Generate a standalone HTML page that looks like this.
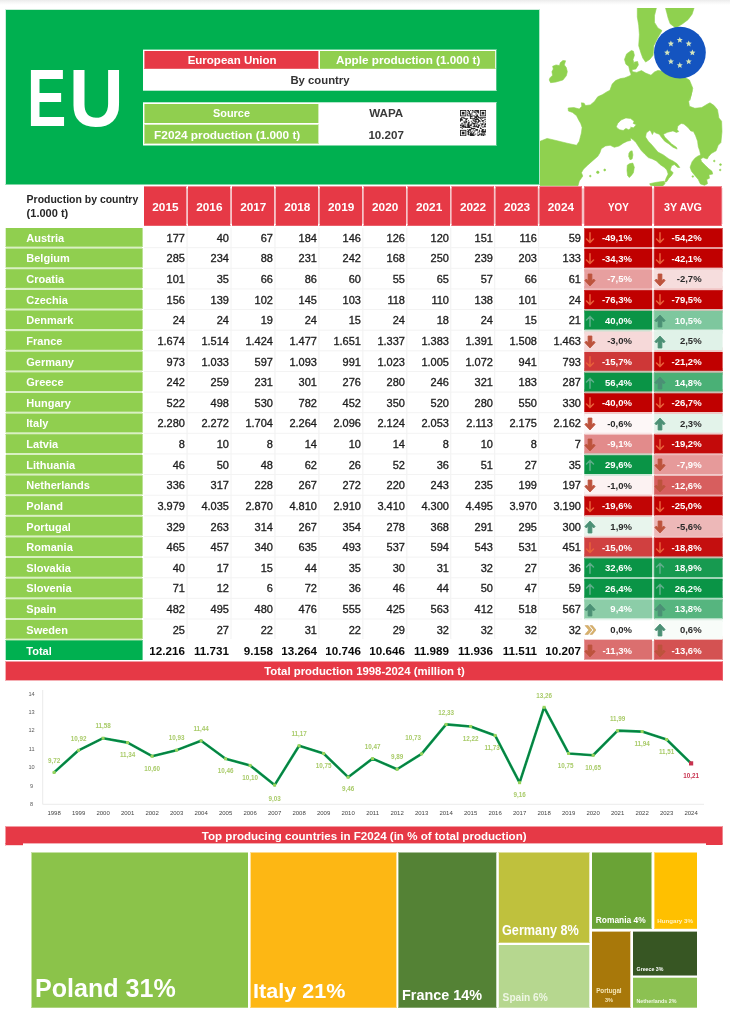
<!DOCTYPE html>
<html lang="en">
<head>
<meta charset="utf-8">
<title>EU apple production by country</title>
<meta name="viewport" content="width=730">
<style>
html,body{margin:0;padding:0;}
body{width:730px;height:1029px;position:relative;overflow:hidden;background:#fff;font-family:"Liberation Sans", Arial, sans-serif;font-weight:700;}
.b,.t,svg{position:absolute;}
.t{white-space:nowrap;margin:0;padding:0;}
section{position:absolute;left:0;top:0;width:730px;height:0;}
</style>
</head>
<body>
<section id="header">
<div class="b" style="left:0px;top:0px;width:730px;height:5px;background:linear-gradient(#ebebeb,#f6f6f6 45%,#fff);"></div>
<div class="b" style="left:5px;top:9px;width:535px;height:176px;background:#00b050;box-sizing:border-box;background-clip:padding-box;border-top:1px solid rgba(0,176,80,.20);border-right:1px solid rgba(0,176,80,.30);border-bottom:1px solid rgba(0,176,80,.50);border-left:1px solid rgba(0,176,80,.20);"></div>
<h1 class="t" style="left:0;top:0;font-size:0;line-height:0"><span class="t" style="left:26.95px;top:51px;font-size:81.4px;line-height:93px;color:#fff;transform:scaleX(0.725);transform-origin:left center;">E</span><span class="t" style="left:69.45px;top:51px;font-size:81.4px;line-height:93px;color:#fff;transform:scaleX(0.93);transform-origin:left center;">U</span></h1>
<div class="b" style="left:143px;top:49px;width:354px;height:42px;background:#fff;box-sizing:border-box;background-clip:padding-box;border-top:1px solid rgba(255,255,255,.40);border-right:1px solid rgba(255,255,255,.30);border-bottom:1px solid rgba(255,255,255,.70);"></div>
<div class="b" style="left:144px;top:51px;width:175px;height:18px;background:#e63946;box-sizing:border-box;background-clip:padding-box;border-right:1px solid rgba(230,57,70,.40);border-bottom:1px solid rgba(230,57,70,.80);border-left:1px solid rgba(230,57,70,.60);"></div>
<div class="b" style="left:320px;top:51px;width:176px;height:18px;background:#90cf4f;box-sizing:border-box;background-clip:padding-box;border-right:1px solid rgba(144,207,79,.20);border-bottom:1px solid rgba(144,207,79,.80);"></div>
<div class="t" style="top:53px;font-size:11.53px;line-height:14px;color:#fff;left:-17.9px;width:500px;text-align:center;">European Union</div>
<div class="t" style="top:52px;font-size:11.71px;line-height:15px;color:#fff;left:158.2px;width:500px;text-align:center;">Apple production (1.000 t)</div>
<div class="t" style="top:73px;font-size:11.33px;line-height:14px;color:#333;left:70px;width:500px;text-align:center;">By country</div>
<div class="b" style="left:143px;top:102px;width:354px;height:44px;background:#fff;box-sizing:border-box;background-clip:padding-box;border-top:1px solid rgba(255,255,255,.70);border-right:1px solid rgba(255,255,255,.30);border-bottom:1px solid rgba(255,255,255,.50);"></div>
<div class="b" style="left:144px;top:104px;width:175px;height:19px;background:#90cf4f;box-sizing:border-box;background-clip:padding-box;border-right:1px solid rgba(144,207,79,.40);border-left:1px solid rgba(144,207,79,.60);"></div>
<div class="b" style="left:144px;top:124px;width:175px;height:20px;background:#90cf4f;box-sizing:border-box;background-clip:padding-box;border-top:1px solid rgba(144,207,79,.30);border-right:1px solid rgba(144,207,79,.40);border-bottom:1px solid rgba(144,207,79,.60);border-left:1px solid rgba(144,207,79,.60);"></div>
<div class="t" style="top:106px;font-size:10.91px;line-height:14px;color:#fff;left:-18.5px;width:500px;text-align:center;">Source</div>
<div class="t" style="top:127px;font-size:11.81px;line-height:16px;color:#fff;left:-22.8px;width:500px;text-align:center;">F2024 production (1.000 t)</div>
<div class="t" style="top:105px;font-size:11.65px;line-height:15px;color:#3a3a3a;left:136.2px;width:500px;text-align:center;">WAPA</div>
<div class="t" style="top:127px;font-size:11.64px;line-height:15px;color:#3a3a3a;left:136.2px;width:500px;text-align:center;">10.207</div>
<svg style="left:459.8px;top:109.6px" width="26.2" height="26.2" viewBox="0 0 26.2 26.2" role="img" aria-label="QR code"><path d="M7.23 0h0.9v0.9h-0.9zM8.13 0h0.9v0.9h-0.9zM9.94 0h0.9v0.9h-0.9zM11.74 0h0.9v0.9h-0.9zM12.65 0h0.9v0.9h-0.9zM14.46 0h0.9v0.9h-0.9zM15.36 0h0.9v0.9h-0.9zM16.26 0h0.9v0.9h-0.9zM17.17 0h0.9v0.9h-0.9zM18.07 0h0.9v0.9h-0.9zM8.13 0.9h0.9v0.9h-0.9zM9.03 0.9h0.9v0.9h-0.9zM12.65 0.9h0.9v0.9h-0.9zM14.46 0.9h0.9v0.9h-0.9zM16.26 0.9h0.9v0.9h-0.9zM17.17 0.9h0.9v0.9h-0.9zM18.07 0.9h0.9v0.9h-0.9zM7.23 1.81h0.9v0.9h-0.9zM9.03 1.81h0.9v0.9h-0.9zM11.74 1.81h0.9v0.9h-0.9zM13.55 1.81h0.9v0.9h-0.9zM14.46 1.81h0.9v0.9h-0.9zM15.36 1.81h0.9v0.9h-0.9zM17.17 1.81h0.9v0.9h-0.9zM18.07 1.81h0.9v0.9h-0.9zM8.13 2.71h0.9v0.9h-0.9zM9.03 2.71h0.9v0.9h-0.9zM11.74 2.71h0.9v0.9h-0.9zM16.26 2.71h0.9v0.9h-0.9zM18.07 2.71h0.9v0.9h-0.9zM7.23 3.61h0.9v0.9h-0.9zM9.03 3.61h0.9v0.9h-0.9zM9.94 3.61h0.9v0.9h-0.9zM10.84 3.61h0.9v0.9h-0.9zM15.36 3.61h0.9v0.9h-0.9zM7.23 4.52h0.9v0.9h-0.9zM9.94 4.52h0.9v0.9h-0.9zM11.74 4.52h0.9v0.9h-0.9zM16.26 4.52h0.9v0.9h-0.9zM17.17 4.52h0.9v0.9h-0.9zM7.23 5.42h0.9v0.9h-0.9zM8.13 5.42h0.9v0.9h-0.9zM9.03 5.42h0.9v0.9h-0.9zM9.94 5.42h0.9v0.9h-0.9zM10.84 5.42h0.9v0.9h-0.9zM12.65 5.42h0.9v0.9h-0.9zM13.55 5.42h0.9v0.9h-0.9zM14.46 5.42h0.9v0.9h-0.9zM16.26 5.42h0.9v0.9h-0.9zM17.17 5.42h0.9v0.9h-0.9zM9.94 6.32h0.9v0.9h-0.9zM10.84 6.32h0.9v0.9h-0.9zM11.74 6.32h0.9v0.9h-0.9zM14.46 6.32h0.9v0.9h-0.9zM15.36 6.32h0.9v0.9h-0.9zM16.26 6.32h0.9v0.9h-0.9zM17.17 6.32h0.9v0.9h-0.9zM18.07 6.32h0.9v0.9h-0.9zM0.9 7.23h0.9v0.9h-0.9zM1.81 7.23h0.9v0.9h-0.9zM2.71 7.23h0.9v0.9h-0.9zM3.61 7.23h0.9v0.9h-0.9zM9.94 7.23h0.9v0.9h-0.9zM14.46 7.23h0.9v0.9h-0.9zM15.36 7.23h0.9v0.9h-0.9zM16.26 7.23h0.9v0.9h-0.9zM18.07 7.23h0.9v0.9h-0.9zM18.97 7.23h0.9v0.9h-0.9zM19.88 7.23h0.9v0.9h-0.9zM20.78 7.23h0.9v0.9h-0.9zM21.68 7.23h0.9v0.9h-0.9zM22.59 7.23h0.9v0.9h-0.9zM23.49 7.23h0.9v0.9h-0.9zM24.39 7.23h0.9v0.9h-0.9zM25.3 7.23h0.9v0.9h-0.9zM0 8.13h0.9v0.9h-0.9zM0.9 8.13h0.9v0.9h-0.9zM3.61 8.13h0.9v0.9h-0.9zM4.52 8.13h0.9v0.9h-0.9zM5.42 8.13h0.9v0.9h-0.9zM6.32 8.13h0.9v0.9h-0.9zM7.23 8.13h0.9v0.9h-0.9zM9.94 8.13h0.9v0.9h-0.9zM10.84 8.13h0.9v0.9h-0.9zM11.74 8.13h0.9v0.9h-0.9zM12.65 8.13h0.9v0.9h-0.9zM13.55 8.13h0.9v0.9h-0.9zM14.46 8.13h0.9v0.9h-0.9zM16.26 8.13h0.9v0.9h-0.9zM17.17 8.13h0.9v0.9h-0.9zM19.88 8.13h0.9v0.9h-0.9zM21.68 8.13h0.9v0.9h-0.9zM0 9.03h0.9v0.9h-0.9zM0.9 9.03h0.9v0.9h-0.9zM1.81 9.03h0.9v0.9h-0.9zM5.42 9.03h0.9v0.9h-0.9zM6.32 9.03h0.9v0.9h-0.9zM12.65 9.03h0.9v0.9h-0.9zM14.46 9.03h0.9v0.9h-0.9zM15.36 9.03h0.9v0.9h-0.9zM16.26 9.03h0.9v0.9h-0.9zM17.17 9.03h0.9v0.9h-0.9zM18.07 9.03h0.9v0.9h-0.9zM20.78 9.03h0.9v0.9h-0.9zM24.39 9.03h0.9v0.9h-0.9zM25.3 9.03h0.9v0.9h-0.9zM0 9.94h0.9v0.9h-0.9zM0.9 9.94h0.9v0.9h-0.9zM1.81 9.94h0.9v0.9h-0.9zM5.42 9.94h0.9v0.9h-0.9zM8.13 9.94h0.9v0.9h-0.9zM12.65 9.94h0.9v0.9h-0.9zM13.55 9.94h0.9v0.9h-0.9zM15.36 9.94h0.9v0.9h-0.9zM18.07 9.94h0.9v0.9h-0.9zM18.97 9.94h0.9v0.9h-0.9zM21.68 9.94h0.9v0.9h-0.9zM22.59 9.94h0.9v0.9h-0.9zM23.49 9.94h0.9v0.9h-0.9zM0 10.84h0.9v0.9h-0.9zM3.61 10.84h0.9v0.9h-0.9zM5.42 10.84h0.9v0.9h-0.9zM6.32 10.84h0.9v0.9h-0.9zM10.84 10.84h0.9v0.9h-0.9zM13.55 10.84h0.9v0.9h-0.9zM14.46 10.84h0.9v0.9h-0.9zM15.36 10.84h0.9v0.9h-0.9zM16.26 10.84h0.9v0.9h-0.9zM18.07 10.84h0.9v0.9h-0.9zM18.97 10.84h0.9v0.9h-0.9zM19.88 10.84h0.9v0.9h-0.9zM21.68 10.84h0.9v0.9h-0.9zM22.59 10.84h0.9v0.9h-0.9zM25.3 10.84h0.9v0.9h-0.9zM3.61 11.74h0.9v0.9h-0.9zM4.52 11.74h0.9v0.9h-0.9zM5.42 11.74h0.9v0.9h-0.9zM6.32 11.74h0.9v0.9h-0.9zM8.13 11.74h0.9v0.9h-0.9zM9.03 11.74h0.9v0.9h-0.9zM11.74 11.74h0.9v0.9h-0.9zM15.36 11.74h0.9v0.9h-0.9zM17.17 11.74h0.9v0.9h-0.9zM18.07 11.74h0.9v0.9h-0.9zM23.49 11.74h0.9v0.9h-0.9zM1.81 12.65h0.9v0.9h-0.9zM3.61 12.65h0.9v0.9h-0.9zM8.13 12.65h0.9v0.9h-0.9zM11.74 12.65h0.9v0.9h-0.9zM12.65 12.65h0.9v0.9h-0.9zM13.55 12.65h0.9v0.9h-0.9zM14.46 12.65h0.9v0.9h-0.9zM15.36 12.65h0.9v0.9h-0.9zM16.26 12.65h0.9v0.9h-0.9zM19.88 12.65h0.9v0.9h-0.9zM22.59 12.65h0.9v0.9h-0.9zM25.3 12.65h0.9v0.9h-0.9zM0.9 13.55h0.9v0.9h-0.9zM1.81 13.55h0.9v0.9h-0.9zM4.52 13.55h0.9v0.9h-0.9zM5.42 13.55h0.9v0.9h-0.9zM7.23 13.55h0.9v0.9h-0.9zM8.13 13.55h0.9v0.9h-0.9zM9.03 13.55h0.9v0.9h-0.9zM10.84 13.55h0.9v0.9h-0.9zM12.65 13.55h0.9v0.9h-0.9zM13.55 13.55h0.9v0.9h-0.9zM14.46 13.55h0.9v0.9h-0.9zM17.17 13.55h0.9v0.9h-0.9zM20.78 13.55h0.9v0.9h-0.9zM21.68 13.55h0.9v0.9h-0.9zM22.59 13.55h0.9v0.9h-0.9zM24.39 13.55h0.9v0.9h-0.9zM25.3 13.55h0.9v0.9h-0.9zM0 14.46h0.9v0.9h-0.9zM2.71 14.46h0.9v0.9h-0.9zM3.61 14.46h0.9v0.9h-0.9zM7.23 14.46h0.9v0.9h-0.9zM8.13 14.46h0.9v0.9h-0.9zM9.94 14.46h0.9v0.9h-0.9zM10.84 14.46h0.9v0.9h-0.9zM14.46 14.46h0.9v0.9h-0.9zM16.26 14.46h0.9v0.9h-0.9zM18.07 14.46h0.9v0.9h-0.9zM18.97 14.46h0.9v0.9h-0.9zM21.68 14.46h0.9v0.9h-0.9zM22.59 14.46h0.9v0.9h-0.9zM24.39 14.46h0.9v0.9h-0.9zM25.3 14.46h0.9v0.9h-0.9zM0 15.36h0.9v0.9h-0.9zM0.9 15.36h0.9v0.9h-0.9zM1.81 15.36h0.9v0.9h-0.9zM2.71 15.36h0.9v0.9h-0.9zM3.61 15.36h0.9v0.9h-0.9zM5.42 15.36h0.9v0.9h-0.9zM7.23 15.36h0.9v0.9h-0.9zM8.13 15.36h0.9v0.9h-0.9zM9.03 15.36h0.9v0.9h-0.9zM9.94 15.36h0.9v0.9h-0.9zM10.84 15.36h0.9v0.9h-0.9zM13.55 15.36h0.9v0.9h-0.9zM14.46 15.36h0.9v0.9h-0.9zM16.26 15.36h0.9v0.9h-0.9zM18.07 15.36h0.9v0.9h-0.9zM18.97 15.36h0.9v0.9h-0.9zM20.78 15.36h0.9v0.9h-0.9zM24.39 15.36h0.9v0.9h-0.9zM1.81 16.26h0.9v0.9h-0.9zM2.71 16.26h0.9v0.9h-0.9zM3.61 16.26h0.9v0.9h-0.9zM4.52 16.26h0.9v0.9h-0.9zM5.42 16.26h0.9v0.9h-0.9zM7.23 16.26h0.9v0.9h-0.9zM8.13 16.26h0.9v0.9h-0.9zM9.03 16.26h0.9v0.9h-0.9zM12.65 16.26h0.9v0.9h-0.9zM13.55 16.26h0.9v0.9h-0.9zM14.46 16.26h0.9v0.9h-0.9zM15.36 16.26h0.9v0.9h-0.9zM16.26 16.26h0.9v0.9h-0.9zM17.17 16.26h0.9v0.9h-0.9zM18.07 16.26h0.9v0.9h-0.9zM21.68 16.26h0.9v0.9h-0.9zM23.49 16.26h0.9v0.9h-0.9zM24.39 16.26h0.9v0.9h-0.9zM25.3 16.26h0.9v0.9h-0.9zM0 17.17h0.9v0.9h-0.9zM0.9 17.17h0.9v0.9h-0.9zM2.71 17.17h0.9v0.9h-0.9zM4.52 17.17h0.9v0.9h-0.9zM5.42 17.17h0.9v0.9h-0.9zM6.32 17.17h0.9v0.9h-0.9zM7.23 17.17h0.9v0.9h-0.9zM8.13 17.17h0.9v0.9h-0.9zM9.03 17.17h0.9v0.9h-0.9zM9.94 17.17h0.9v0.9h-0.9zM10.84 17.17h0.9v0.9h-0.9zM17.17 17.17h0.9v0.9h-0.9zM18.07 17.17h0.9v0.9h-0.9zM19.88 17.17h0.9v0.9h-0.9zM22.59 17.17h0.9v0.9h-0.9zM1.81 18.07h0.9v0.9h-0.9zM10.84 18.07h0.9v0.9h-0.9zM11.74 18.07h0.9v0.9h-0.9zM12.65 18.07h0.9v0.9h-0.9zM13.55 18.07h0.9v0.9h-0.9zM14.46 18.07h0.9v0.9h-0.9zM19.88 18.07h0.9v0.9h-0.9zM20.78 18.07h0.9v0.9h-0.9zM7.23 18.97h0.9v0.9h-0.9zM9.03 18.97h0.9v0.9h-0.9zM9.94 18.97h0.9v0.9h-0.9zM10.84 18.97h0.9v0.9h-0.9zM12.65 18.97h0.9v0.9h-0.9zM15.36 18.97h0.9v0.9h-0.9zM16.26 18.97h0.9v0.9h-0.9zM17.17 18.97h0.9v0.9h-0.9zM21.68 18.97h0.9v0.9h-0.9zM22.59 18.97h0.9v0.9h-0.9zM23.49 18.97h0.9v0.9h-0.9zM25.3 18.97h0.9v0.9h-0.9zM8.13 19.88h0.9v0.9h-0.9zM9.03 19.88h0.9v0.9h-0.9zM9.94 19.88h0.9v0.9h-0.9zM13.55 19.88h0.9v0.9h-0.9zM15.36 19.88h0.9v0.9h-0.9zM16.26 19.88h0.9v0.9h-0.9zM17.17 19.88h0.9v0.9h-0.9zM18.97 19.88h0.9v0.9h-0.9zM21.68 19.88h0.9v0.9h-0.9zM22.59 19.88h0.9v0.9h-0.9zM25.3 19.88h0.9v0.9h-0.9zM7.23 20.78h0.9v0.9h-0.9zM8.13 20.78h0.9v0.9h-0.9zM9.94 20.78h0.9v0.9h-0.9zM11.74 20.78h0.9v0.9h-0.9zM14.46 20.78h0.9v0.9h-0.9zM18.97 20.78h0.9v0.9h-0.9zM20.78 20.78h0.9v0.9h-0.9zM21.68 20.78h0.9v0.9h-0.9zM22.59 20.78h0.9v0.9h-0.9zM23.49 20.78h0.9v0.9h-0.9zM24.39 20.78h0.9v0.9h-0.9zM25.3 20.78h0.9v0.9h-0.9zM7.23 21.68h0.9v0.9h-0.9zM8.13 21.68h0.9v0.9h-0.9zM9.03 21.68h0.9v0.9h-0.9zM10.84 21.68h0.9v0.9h-0.9zM13.55 21.68h0.9v0.9h-0.9zM17.17 21.68h0.9v0.9h-0.9zM18.07 21.68h0.9v0.9h-0.9zM18.97 21.68h0.9v0.9h-0.9zM21.68 21.68h0.9v0.9h-0.9zM22.59 21.68h0.9v0.9h-0.9zM23.49 21.68h0.9v0.9h-0.9zM24.39 21.68h0.9v0.9h-0.9zM25.3 21.68h0.9v0.9h-0.9zM8.13 22.59h0.9v0.9h-0.9zM9.94 22.59h0.9v0.9h-0.9zM10.84 22.59h0.9v0.9h-0.9zM12.65 22.59h0.9v0.9h-0.9zM13.55 22.59h0.9v0.9h-0.9zM21.68 22.59h0.9v0.9h-0.9zM23.49 22.59h0.9v0.9h-0.9zM7.23 23.49h0.9v0.9h-0.9zM8.13 23.49h0.9v0.9h-0.9zM9.94 23.49h0.9v0.9h-0.9zM10.84 23.49h0.9v0.9h-0.9zM11.74 23.49h0.9v0.9h-0.9zM12.65 23.49h0.9v0.9h-0.9zM15.36 23.49h0.9v0.9h-0.9zM17.17 23.49h0.9v0.9h-0.9zM18.97 23.49h0.9v0.9h-0.9zM19.88 23.49h0.9v0.9h-0.9zM20.78 23.49h0.9v0.9h-0.9zM21.68 23.49h0.9v0.9h-0.9zM23.49 23.49h0.9v0.9h-0.9zM24.39 23.49h0.9v0.9h-0.9zM8.13 24.39h0.9v0.9h-0.9zM9.03 24.39h0.9v0.9h-0.9zM9.94 24.39h0.9v0.9h-0.9zM10.84 24.39h0.9v0.9h-0.9zM11.74 24.39h0.9v0.9h-0.9zM12.65 24.39h0.9v0.9h-0.9zM13.55 24.39h0.9v0.9h-0.9zM14.46 24.39h0.9v0.9h-0.9zM18.07 24.39h0.9v0.9h-0.9zM18.97 24.39h0.9v0.9h-0.9zM20.78 24.39h0.9v0.9h-0.9zM21.68 24.39h0.9v0.9h-0.9zM22.59 24.39h0.9v0.9h-0.9zM23.49 24.39h0.9v0.9h-0.9zM25.3 24.39h0.9v0.9h-0.9zM9.94 25.3h0.9v0.9h-0.9zM10.84 25.3h0.9v0.9h-0.9zM11.74 25.3h0.9v0.9h-0.9zM12.65 25.3h0.9v0.9h-0.9zM13.55 25.3h0.9v0.9h-0.9zM17.17 25.3h0.9v0.9h-0.9zM18.07 25.3h0.9v0.9h-0.9zM20.78 25.3h0.9v0.9h-0.9zM22.59 25.3h0.9v0.9h-0.9zM23.49 25.3h0.9v0.9h-0.9z" fill="#222"/><rect x="0" y="0" width="6.32" height="6.32" fill="#222"/><rect x="0.9" y="0.9" width="4.52" height="4.52" fill="#fff"/><rect x="1.81" y="1.81" width="2.71" height="2.71" fill="#222"/><rect x="19.88" y="0" width="6.32" height="6.32" fill="#222"/><rect x="20.78" y="0.9" width="4.52" height="4.52" fill="#fff"/><rect x="21.68" y="1.81" width="2.71" height="2.71" fill="#222"/><rect x="0" y="19.88" width="6.32" height="6.32" fill="#222"/><rect x="0.9" y="20.78" width="4.52" height="4.52" fill="#fff"/><rect x="1.81" y="21.68" width="2.71" height="2.71" fill="#222"/></svg>
</section>
<section id="map">
<svg style="left:539.5px;top:7.5px" width="190.5" height="178.7" viewBox="539.5 7.5 190.5 178.7" role="img" aria-label="Map of the European Union"><g fill="#8fd14f" stroke="#8fd14f" stroke-width=".6" stroke-linejoin="round"><path fill-rule="evenodd" d="M539.1 141L546.6 137.9L555.5 140L566.5 142.7L576.1 144.8L578.8 140.7L580.9 132.5L581.6 127L580.2 122.9L578.2 119.5L576.1 115.3L572 111.9L567.9 110.5L567.6 107.5L573.4 107.1L578.8 108.5L581.3 105.8L580.9 102.3L583.6 102.7L585 105.1L589.8 104.4L593.9 101L597.3 96.2L602.1 94.1L606.2 91.4L609 90L609.7 89L611.7 83.6L615.1 80.1L619.9 78.1L624 77.4L629.5 75.3L630.6 73.7L629.5 71.2L628.2 65.8L625.4 63.7L624 58.9L626.1 53.4L630.9 50L632.9 50.7L633.9 54.8L632.5 58.9L633.4 63L635 65.1L636.2 65.1L635.5 68.5L631.4 69.2L632.1 71.2L636.2 71.9L641 70.1L645.1 72.6L650.5 74.7L654 71.5L657.4 69.9L665.6 71.2L679.3 74L688.9 79.5L692.3 87.7L690.3 95.9L689.2 100L691.6 90L690.3 95.5L688.2 101L688.9 105.8L694.4 107.8L701.2 107.1L706.7 103.7L709.5 102.3L713.6 105.1L717 109.2L718.4 117.4L721.1 120.8L721.5 131.1L720.4 142.1L717.7 144.8L715.6 150.3L710.8 153L708.1 156L706.7 158.5L702.6 157.1L700.1 158.5L701.2 161.2L704.7 164.7L708.1 168.1L711.5 170.8L712.2 173.6L708.4 174.2L709 177.7L706.2 179L707 183.2L704 184.8L699.9 183.4L697.8 179L694.4 174.9L691 170.8L689.6 166.7L691.6 161.2L694.4 157.8L697.1 155.8L700.1 154.4L699.2 150.3L697.8 146.2L697.1 140.7L695.1 135.2L693 131.1L690.3 130.4L687.5 127L683.4 123.6L680.7 122.9L677.3 125.6L676.6 129L678.2 131.1L675.9 131.9L672.5 130.4L667 131.8L662.9 133.8L664.2 136.6L667 139.3L671.1 143.4L675.9 146.8L676.6 148.6L672.5 146.8L668.4 143.4L664.2 140.7L660.8 136.6L658.8 133.8L655.3 132.5L653.3 131.1L651.9 134.1L650.5 131.1L649.2 129.7L645.8 132.5L645.1 136.6L647.8 140.7L650.5 143.4L654 147.5L657.4 151.6L662.9 154.4L668.4 158.5L672.5 160.5L676.6 163.3L679.3 167L677.3 167L673.8 164L671.1 165.3L669.7 169.5L672.7 172.2L671.1 174.9L668.4 177.7L666.3 181.1L664.2 181.8L665.6 177.7L667.7 173.6L666.3 169.5L663.6 166.7L659.5 164L656 160.5L651.9 158.5L647.8 157.1L644.4 153.7L641 150.3L638.2 146.2L635.5 142.1L632.7 139.3L630 137.3L630.2 140L626.8 140.7L622.7 142.7L618.6 145.5L613.8 146.8L609.7 144.8L604.9 145.5L600.8 148.2L599.4 152.3L597.3 155.8L592.5 159.9L587.1 164.7L582.9 168.8L580.9 172.2L582.3 175.6L578.8 180.4L577.5 185.2L539.1 185.2ZM615.8 126.3L617.2 122.9L620.6 119.5L625.4 117.4L630.2 118.1L633.6 120.8L632.7 122.9L635.8 124.2L633 127.3L630 126.7L630.9 127.3L628.2 129.3L625.4 127.9L622.7 130L619.2 129.3L617.2 127.9Z"/><path d="M548.7 79.5L550.1 82.2L555.5 81.5L562.4 79.5L565.8 75.3L566.8 71.2L565.8 67.1L563.8 64.4L565.1 60.3L562.4 60L559.7 62.3L559 65.1L555.5 64.4L552.1 65.8L552.8 68.5L551.4 71.2L552.1 74.7L549.4 77.4Z"/><path d="M636.8 7.1L656 7.1L654 15.1L654 21.9L657.4 27.4L661.5 30.1L657.4 37L653.3 45.2L652.6 54.8L649.2 58.9L645.1 61.6L642.3 57.5L640.3 52.1L638.2 45.2L638.9 34.2L638.2 24.7L636.8 16.4Z"/><path d="M664.9 7.1L693.7 7.1L691.6 13.7L687.5 19.2L682.1 23.3L675.2 27.4L669.7 23.3L667.7 17.8L666.3 12.3Z"/><path d="M630 51.4L631.9 51.8L632.5 56.2L631.4 61L630 61.6Z"/><path d="M633.8 61.6L637.1 61L637.9 64.4L636 67.4L633.6 66.6Z"/><path d="M629.5 151L631.6 150.3L632.4 154.4L631.6 158.5L629.5 159.2L628.2 155.8L628.4 153Z"/><path d="M626.8 164.7L628.8 163.3L632.3 162.6L633.8 166.7L632.9 172.2L630.9 174.9L628.8 177.1L627.1 174.9L626.5 170.1Z"/><path d="M649.2 183.2L656 181.8L663.6 180.8L664.5 183.2L662.2 185.5L653.3 185.5L649.9 184.8Z"/><circle cx="597.3" cy="171.8" r="1.23"/><circle cx="604.2" cy="169.5" r="0.96"/><circle cx="589.8" cy="175.6" r="0.82"/><circle cx="713.8" cy="160.5" r="0.82"/><circle cx="720" cy="164.1" r="0.96"/><circle cx="719.7" cy="169.5" r="0.82"/><circle cx="692.3" cy="176" r="0.82"/></g><circle cx="679.4" cy="52.1" r="25.9" fill="#1454c0"/><g fill="#d3e4bd"><polygon points="679.3,36.4 680.15,38.43 682.34,38.61 680.68,40.05 681.18,42.19 679.3,41.05 677.42,42.19 677.92,40.05 676.26,38.61 678.45,38.43"/><polygon points="688.21,40.09 689.06,42.12 691.25,42.3 689.59,43.74 690.09,45.88 688.21,44.74 686.33,45.88 686.83,43.74 685.17,42.3 687.36,42.12"/><polygon points="691.9,49 692.75,51.03 694.94,51.21 693.28,52.65 693.78,54.79 691.9,53.65 690.02,54.79 690.52,52.65 688.86,51.21 691.05,51.03"/><polygon points="688.21,57.91 689.06,59.94 691.25,60.12 689.59,61.56 690.09,63.7 688.21,62.56 686.33,63.7 686.83,61.56 685.17,60.12 687.36,59.94"/><polygon points="679.3,61.6 680.15,63.63 682.34,63.81 680.68,65.25 681.18,67.39 679.3,66.25 677.42,67.39 677.92,65.25 676.26,63.81 678.45,63.63"/><polygon points="670.39,57.91 671.24,59.94 673.43,60.12 671.77,61.56 672.27,63.7 670.39,62.56 668.51,63.7 669.01,61.56 667.35,60.12 669.54,59.94"/><polygon points="666.7,49 667.55,51.03 669.74,51.21 668.08,52.65 668.58,54.79 666.7,53.65 664.82,54.79 665.32,52.65 663.66,51.21 665.85,51.03"/><polygon points="670.39,40.09 671.24,42.12 673.43,42.3 671.77,43.74 672.27,45.88 670.39,44.74 668.51,45.88 669.01,43.74 667.35,42.3 669.54,42.12"/></g></svg>
</section>
<section id="table">
<div class="b" style="left:148px;top:188px;width:575px;height:36px;background:#f6c3c7;box-sizing:border-box;background-clip:padding-box;border-top:1px solid rgba(246,195,199,.60);border-right:1px solid rgba(246,195,199,.50);border-bottom:1px solid rgba(246,195,199,.80);"></div>
<div class="t" style="top:193px;font-size:10.48px;line-height:13px;color:#262626;left:26.6px;">Production by country</div>
<div class="t" style="top:206px;font-size:11.03px;line-height:14px;color:#262626;left:26.6px;">(1.000 t)</div>
<div class="b" style="left:144px;top:186px;width:43px;height:40px;background:#e63946;box-sizing:border-box;background-clip:padding-box;border-top:1px solid rgba(230,57,70,.60);border-right:1px solid rgba(230,57,70,.20);border-bottom:1px solid rgba(230,57,70,.80);"></div>
<div class="t" style="top:199px;font-size:11.8px;line-height:16px;color:#fff;left:-84.6px;width:500px;text-align:center;">2015</div>
<div class="b" style="left:188px;top:186px;width:43px;height:40px;background:#e63946;box-sizing:border-box;background-clip:padding-box;border-top:1px solid rgba(230,57,70,.60);border-right:1px solid rgba(230,57,70,.15);border-bottom:1px solid rgba(230,57,70,.80);"></div>
<div class="t" style="top:199px;font-size:11.8px;line-height:16px;color:#fff;left:-40.65px;width:500px;text-align:center;">2016</div>
<div class="b" style="left:232px;top:186px;width:42px;height:40px;background:#e63946;box-sizing:border-box;background-clip:padding-box;border-top:1px solid rgba(230,57,70,.60);border-bottom:1px solid rgba(230,57,70,.80);"></div>
<div class="t" style="top:199px;font-size:11.8px;line-height:16px;color:#fff;left:3.3px;width:500px;text-align:center;">2017</div>
<div class="b" style="left:275px;top:186px;width:43px;height:40px;background:#e63946;box-sizing:border-box;background-clip:padding-box;border-top:1px solid rgba(230,57,70,.60);border-bottom:1px solid rgba(230,57,70,.80);border-left:1px solid rgba(230,57,70,.15);"></div>
<div class="t" style="top:199px;font-size:11.8px;line-height:16px;color:#fff;left:47.25px;width:500px;text-align:center;">2018</div>
<div class="b" style="left:319px;top:186px;width:43px;height:40px;background:#e63946;box-sizing:border-box;background-clip:padding-box;border-top:1px solid rgba(230,57,70,.60);border-bottom:1px solid rgba(230,57,70,.80);border-left:1px solid rgba(230,57,70,.20);"></div>
<div class="t" style="top:199px;font-size:11.8px;line-height:16px;color:#fff;left:91.2px;width:500px;text-align:center;">2019</div>
<div class="b" style="left:363px;top:186px;width:43px;height:40px;background:#e63946;box-sizing:border-box;background-clip:padding-box;border-top:1px solid rgba(230,57,70,.60);border-bottom:1px solid rgba(230,57,70,.80);border-left:1px solid rgba(230,57,70,.25);"></div>
<div class="t" style="top:199px;font-size:11.8px;line-height:16px;color:#fff;left:135.15px;width:500px;text-align:center;">2020</div>
<div class="b" style="left:407px;top:186px;width:43px;height:40px;background:#e63946;box-sizing:border-box;background-clip:padding-box;border-top:1px solid rgba(230,57,70,.60);border-bottom:1px solid rgba(230,57,70,.80);border-left:1px solid rgba(230,57,70,.30);"></div>
<div class="t" style="top:199px;font-size:11.8px;line-height:16px;color:#fff;left:179.1px;width:500px;text-align:center;">2021</div>
<div class="b" style="left:451px;top:186px;width:43px;height:40px;background:#e63946;box-sizing:border-box;background-clip:padding-box;border-top:1px solid rgba(230,57,70,.60);border-right:1px solid rgba(230,57,70,.85);border-bottom:1px solid rgba(230,57,70,.80);border-left:1px solid rgba(230,57,70,.35);"></div>
<div class="t" style="top:199px;font-size:11.8px;line-height:16px;color:#fff;left:223.05px;width:500px;text-align:center;">2022</div>
<div class="b" style="left:495px;top:186px;width:43px;height:40px;background:#e63946;box-sizing:border-box;background-clip:padding-box;border-top:1px solid rgba(230,57,70,.60);border-right:1px solid rgba(230,57,70,.80);border-bottom:1px solid rgba(230,57,70,.80);border-left:1px solid rgba(230,57,70,.40);"></div>
<div class="t" style="top:199px;font-size:11.8px;line-height:16px;color:#fff;left:267px;width:500px;text-align:center;">2023</div>
<div class="b" style="left:539px;top:186px;width:43px;height:40px;background:#e63946;box-sizing:border-box;background-clip:padding-box;border-top:1px solid rgba(230,57,70,.60);border-right:1px solid rgba(230,57,70,.75);border-bottom:1px solid rgba(230,57,70,.80);border-left:1px solid rgba(230,57,70,.45);"></div>
<div class="t" style="top:199px;font-size:11.8px;line-height:16px;color:#fff;left:310.95px;width:500px;text-align:center;">2024</div>
<div class="b" style="left:584px;top:186px;width:68px;height:40px;background:#e63946;box-sizing:border-box;background-clip:padding-box;border-top:1px solid rgba(230,57,70,.60);border-bottom:1px solid rgba(230,57,70,.80);border-left:1px solid rgba(230,57,70,.70);"></div>
<div class="t" style="left:608.23px;top:201px;font-size:10.45px;line-height:13px;color:#fff;transform:scaleX(0.939);transform-origin:left center;">YOY</div>
<div class="b" style="left:654px;top:186px;width:68px;height:40px;background:#e63946;box-sizing:border-box;background-clip:padding-box;border-top:1px solid rgba(230,57,70,.60);border-right:1px solid rgba(230,57,70,.60);border-bottom:1px solid rgba(230,57,70,.80);border-left:1px solid rgba(230,57,70,.80);"></div>
<div class="t" style="left:664.45px;top:201px;font-size:10.45px;line-height:13px;color:#fff;transform:scaleX(1.028);transform-origin:left center;">3Y AVG</div>
<div class="b" style="left:186px;top:228px;width:2px;height:411px;background:#f1f1f1;box-sizing:border-box;background-clip:padding-box;border-right:1px solid rgba(241,241,241,.57);border-bottom:1px solid rgba(241,241,241,.60);border-left:1px solid rgba(241,241,241,.43);"></div>
<div class="b" style="left:230px;top:228px;width:2px;height:411px;background:#f1f1f1;box-sizing:border-box;background-clip:padding-box;border-right:1px solid rgba(241,241,241,.53);border-bottom:1px solid rgba(241,241,241,.60);border-left:1px solid rgba(241,241,241,.47);"></div>
<div class="b" style="left:274px;top:228px;width:2px;height:411px;background:#f1f1f1;box-sizing:border-box;background-clip:padding-box;border-right:1px solid rgba(241,241,241,.48);border-bottom:1px solid rgba(241,241,241,.60);border-left:1px solid rgba(241,241,241,.52);"></div>
<div class="b" style="left:318px;top:228px;width:2px;height:411px;background:#f1f1f1;box-sizing:border-box;background-clip:padding-box;border-right:1px solid rgba(241,241,241,.43);border-bottom:1px solid rgba(241,241,241,.60);border-left:1px solid rgba(241,241,241,.57);"></div>
<div class="b" style="left:362px;top:228px;width:2px;height:411px;background:#f1f1f1;box-sizing:border-box;background-clip:padding-box;border-right:1px solid rgba(241,241,241,.38);border-bottom:1px solid rgba(241,241,241,.60);border-left:1px solid rgba(241,241,241,.62);"></div>
<div class="b" style="left:406px;top:228px;width:2px;height:411px;background:#f1f1f1;box-sizing:border-box;background-clip:padding-box;border-right:1px solid rgba(241,241,241,.33);border-bottom:1px solid rgba(241,241,241,.60);border-left:1px solid rgba(241,241,241,.67);"></div>
<div class="b" style="left:450px;top:228px;width:2px;height:411px;background:#f1f1f1;box-sizing:border-box;background-clip:padding-box;border-right:1px solid rgba(241,241,241,.28);border-bottom:1px solid rgba(241,241,241,.60);border-left:1px solid rgba(241,241,241,.72);"></div>
<div class="b" style="left:494px;top:228px;width:2px;height:411px;background:#f1f1f1;box-sizing:border-box;background-clip:padding-box;border-right:1px solid rgba(241,241,241,.23);border-bottom:1px solid rgba(241,241,241,.60);border-left:1px solid rgba(241,241,241,.77);"></div>
<div class="b" style="left:538px;top:228px;width:2px;height:411px;background:#f1f1f1;box-sizing:border-box;background-clip:padding-box;border-right:1px solid rgba(241,241,241,.17);border-bottom:1px solid rgba(241,241,241,.60);border-left:1px solid rgba(241,241,241,.83);"></div>
<div class="b" style="left:144px;top:247px;width:438px;height:2px;background:#f3f3f3;box-sizing:border-box;background-clip:padding-box;border-top:1px solid rgba(243,243,243,.84);border-bottom:1px solid rgba(243,243,243,.16);"></div>
<div class="b" style="left:144px;top:267px;width:438px;height:2px;background:#f3f3f3;box-sizing:border-box;background-clip:padding-box;border-top:1px solid rgba(243,243,243,.20);border-bottom:1px solid rgba(243,243,243,.80);"></div>
<div class="b" style="left:144px;top:288px;width:438px;height:2px;background:#f3f3f3;box-sizing:border-box;background-clip:padding-box;border-top:1px solid rgba(243,243,243,.57);border-bottom:1px solid rgba(243,243,243,.43);"></div>
<div class="b" style="left:144px;top:309px;width:438px;height:1px;background:#f3f3f3;"></div>
<div class="b" style="left:144px;top:329px;width:438px;height:2px;background:#f3f3f3;box-sizing:border-box;background-clip:padding-box;border-top:1px solid rgba(243,243,243,.31);border-bottom:1px solid rgba(243,243,243,.69);"></div>
<div class="b" style="left:144px;top:350px;width:438px;height:2px;background:#f3f3f3;box-sizing:border-box;background-clip:padding-box;border-top:1px solid rgba(243,243,243,.69);border-bottom:1px solid rgba(243,243,243,.31);"></div>
<div class="b" style="left:144px;top:371px;width:438px;height:1px;background:#f3f3f3;"></div>
<div class="b" style="left:144px;top:391px;width:438px;height:2px;background:#f3f3f3;box-sizing:border-box;background-clip:padding-box;border-top:1px solid rgba(243,243,243,.43);border-bottom:1px solid rgba(243,243,243,.57);"></div>
<div class="b" style="left:144px;top:412px;width:438px;height:2px;background:#f3f3f3;box-sizing:border-box;background-clip:padding-box;border-top:1px solid rgba(243,243,243,.80);border-bottom:1px solid rgba(243,243,243,.20);"></div>
<div class="b" style="left:144px;top:432px;width:438px;height:2px;background:#f3f3f3;box-sizing:border-box;background-clip:padding-box;border-top:1px solid rgba(243,243,243,.17);border-bottom:1px solid rgba(243,243,243,.83);"></div>
<div class="b" style="left:144px;top:453px;width:438px;height:2px;background:#f3f3f3;box-sizing:border-box;background-clip:padding-box;border-top:1px solid rgba(243,243,243,.54);border-bottom:1px solid rgba(243,243,243,.46);"></div>
<div class="b" style="left:144px;top:474px;width:438px;height:1px;background:#f3f3f3;"></div>
<div class="b" style="left:144px;top:494px;width:438px;height:2px;background:#f3f3f3;box-sizing:border-box;background-clip:padding-box;border-top:1px solid rgba(243,243,243,.27);border-bottom:1px solid rgba(243,243,243,.73);"></div>
<div class="b" style="left:144px;top:515px;width:438px;height:2px;background:#f3f3f3;box-sizing:border-box;background-clip:padding-box;border-top:1px solid rgba(243,243,243,.65);border-bottom:1px solid rgba(243,243,243,.35);"></div>
<div class="b" style="left:144px;top:536px;width:438px;height:1px;background:#f3f3f3;"></div>
<div class="b" style="left:144px;top:556px;width:438px;height:2px;background:#f3f3f3;box-sizing:border-box;background-clip:padding-box;border-top:1px solid rgba(243,243,243,.39);border-bottom:1px solid rgba(243,243,243,.61);"></div>
<div class="b" style="left:144px;top:577px;width:438px;height:2px;background:#f3f3f3;box-sizing:border-box;background-clip:padding-box;border-top:1px solid rgba(243,243,243,.75);border-bottom:1px solid rgba(243,243,243,.25);"></div>
<div class="b" style="left:144px;top:597px;width:438px;height:2px;background:#f3f3f3;box-sizing:border-box;background-clip:padding-box;border-top:1px solid rgba(243,243,243,.13);border-bottom:1px solid rgba(243,243,243,.87);"></div>
<div class="b" style="left:144px;top:618px;width:438px;height:2px;background:#f3f3f3;box-sizing:border-box;background-clip:padding-box;border-top:1px solid rgba(243,243,243,.50);border-bottom:1px solid rgba(243,243,243,.50);"></div>
<div class="b" style="left:6px;top:230px;width:136px;height:415px;background:#d9f0c2;box-sizing:border-box;background-clip:padding-box;border-bottom:1px solid rgba(217,240,194,.60);"></div>
<div class="b" style="left:584px;top:244px;width:68px;height:7px;background:rgb(230,153,153);box-sizing:border-box;background-clip:padding-box;border-top:1px solid rgba(230,153,153,.30);border-bottom:1px solid rgba(230,153,153,.63);border-left:1px solid rgba(230,153,153,.70);"></div>
<div class="b" style="left:654px;top:244px;width:69px;height:7px;background:rgb(230,153,153);box-sizing:border-box;background-clip:padding-box;border-top:1px solid rgba(230,153,153,.30);border-right:1px solid rgba(230,153,153,.60);border-bottom:1px solid rgba(230,153,153,.63);border-left:1px solid rgba(230,153,153,.80);"></div>
<div class="b" style="left:584px;top:265px;width:68px;height:7px;background:rgb(238,185,185);box-sizing:border-box;background-clip:padding-box;border-top:1px solid rgba(238,185,185,.67);border-bottom:1px solid rgba(238,185,185,.26);border-left:1px solid rgba(238,185,185,.70);"></div>
<div class="b" style="left:654px;top:265px;width:69px;height:7px;background:rgb(241,197,197);box-sizing:border-box;background-clip:padding-box;border-top:1px solid rgba(241,197,197,.67);border-right:1px solid rgba(241,197,197,.60);border-bottom:1px solid rgba(241,197,197,.26);border-left:1px solid rgba(241,197,197,.80);"></div>
<div class="b" style="left:584px;top:286px;width:68px;height:6px;background:rgb(238,185,185);box-sizing:border-box;background-clip:padding-box;border-left:1px solid rgba(238,185,185,.70);"></div>
<div class="b" style="left:654px;top:286px;width:69px;height:6px;background:rgb(241,197,197);box-sizing:border-box;background-clip:padding-box;border-right:1px solid rgba(241,197,197,.60);border-left:1px solid rgba(241,197,197,.80);"></div>
<div class="b" style="left:584px;top:306px;width:68px;height:7px;background:rgb(193,183,167);box-sizing:border-box;background-clip:padding-box;border-top:1px solid rgba(193,183,167,.41);border-bottom:1px solid rgba(193,183,167,.52);border-left:1px solid rgba(193,183,167,.70);"></div>
<div class="b" style="left:654px;top:306px;width:69px;height:7px;background:rgb(217,193,185);box-sizing:border-box;background-clip:padding-box;border-top:1px solid rgba(217,193,185,.41);border-right:1px solid rgba(217,193,185,.60);border-bottom:1px solid rgba(217,193,185,.52);border-left:1px solid rgba(217,193,185,.80);"></div>
<div class="b" style="left:584px;top:327px;width:68px;height:7px;background:rgb(204,226,210);box-sizing:border-box;background-clip:padding-box;border-top:1px solid rgba(204,226,210,.78);border-bottom:1px solid rgba(204,226,210,.15);border-left:1px solid rgba(204,226,210,.70);"></div>
<div class="b" style="left:654px;top:327px;width:69px;height:7px;background:rgb(223,241,231);box-sizing:border-box;background-clip:padding-box;border-top:1px solid rgba(223,241,231,.78);border-right:1px solid rgba(223,241,231,.60);border-bottom:1px solid rgba(223,241,231,.15);border-left:1px solid rgba(223,241,231,.80);"></div>
<div class="b" style="left:584px;top:347px;width:68px;height:7px;background:rgb(243,207,207);box-sizing:border-box;background-clip:padding-box;border-top:1px solid rgba(243,207,207,.15);border-bottom:1px solid rgba(243,207,207,.78);border-left:1px solid rgba(243,207,207,.70);"></div>
<div class="b" style="left:654px;top:347px;width:69px;height:7px;background:rgb(236,201,199);box-sizing:border-box;background-clip:padding-box;border-top:1px solid rgba(236,201,199,.15);border-right:1px solid rgba(236,201,199,.60);border-bottom:1px solid rgba(236,201,199,.78);border-left:1px solid rgba(236,201,199,.80);"></div>
<div class="b" style="left:584px;top:368px;width:68px;height:7px;background:rgb(196,194,178);box-sizing:border-box;background-clip:padding-box;border-top:1px solid rgba(196,194,178,.52);border-bottom:1px solid rgba(196,194,178,.41);border-left:1px solid rgba(196,194,178,.70);"></div>
<div class="b" style="left:654px;top:368px;width:69px;height:7px;background:rgb(206,188,177);box-sizing:border-box;background-clip:padding-box;border-top:1px solid rgba(206,188,177,.52);border-right:1px solid rgba(206,188,177,.60);border-bottom:1px solid rgba(206,188,177,.41);border-left:1px solid rgba(206,188,177,.80);"></div>
<div class="b" style="left:584px;top:389px;width:68px;height:6px;background:rgb(193,183,167);box-sizing:border-box;background-clip:padding-box;border-left:1px solid rgba(193,183,167,.70);"></div>
<div class="b" style="left:654px;top:389px;width:69px;height:6px;background:rgb(206,188,177);box-sizing:border-box;background-clip:padding-box;border-right:1px solid rgba(206,188,177,.60);border-left:1px solid rgba(206,188,177,.80);"></div>
<div class="b" style="left:584px;top:409px;width:68px;height:7px;background:rgb(242,202,202);box-sizing:border-box;background-clip:padding-box;border-top:1px solid rgba(242,202,202,.26);border-bottom:1px solid rgba(242,202,202,.67);border-left:1px solid rgba(242,202,202,.70);"></div>
<div class="b" style="left:654px;top:409px;width:69px;height:7px;background:rgb(237,202,200);box-sizing:border-box;background-clip:padding-box;border-top:1px solid rgba(237,202,200,.26);border-right:1px solid rgba(237,202,200,.60);border-bottom:1px solid rgba(237,202,200,.67);border-left:1px solid rgba(237,202,200,.80);"></div>
<div class="b" style="left:584px;top:430px;width:68px;height:7px;background:rgb(249,230,230);box-sizing:border-box;background-clip:padding-box;border-top:1px solid rgba(249,230,230,.63);border-bottom:1px solid rgba(249,230,230,.30);border-left:1px solid rgba(249,230,230,.70);"></div>
<div class="b" style="left:654px;top:430px;width:69px;height:7px;background:rgb(237,204,202);box-sizing:border-box;background-clip:padding-box;border-top:1px solid rgba(237,204,202,.63);border-right:1px solid rgba(237,204,202,.60);border-bottom:1px solid rgba(237,204,202,.30);border-left:1px solid rgba(237,204,202,.80);"></div>
<div class="b" style="left:584px;top:451px;width:68px;height:6px;background:rgb(200,210,195);box-sizing:border-box;background-clip:padding-box;border-left:1px solid rgba(200,210,195,.70);"></div>
<div class="b" style="left:654px;top:451px;width:69px;height:6px;background:rgb(238,186,186);box-sizing:border-box;background-clip:padding-box;border-right:1px solid rgba(238,186,186,.60);border-left:1px solid rgba(238,186,186,.80);"></div>
<div class="b" style="left:584px;top:471px;width:68px;height:7px;background:rgb(205,231,215);box-sizing:border-box;background-clip:padding-box;border-top:1px solid rgba(205,231,215,.37);border-bottom:1px solid rgba(205,231,215,.56);border-left:1px solid rgba(205,231,215,.70);"></div>
<div class="b" style="left:654px;top:471px;width:69px;height:7px;background:rgb(242,203,203);box-sizing:border-box;background-clip:padding-box;border-top:1px solid rgba(242,203,203,.37);border-right:1px solid rgba(242,203,203,.60);border-bottom:1px solid rgba(242,203,203,.56);border-left:1px solid rgba(242,203,203,.80);"></div>
<div class="b" style="left:584px;top:492px;width:68px;height:7px;background:rgb(242,202,202);box-sizing:border-box;background-clip:padding-box;border-top:1px solid rgba(242,202,202,.74);border-bottom:1px solid rgba(242,202,202,.19);border-left:1px solid rgba(242,202,202,.70);"></div>
<div class="b" style="left:654px;top:492px;width:69px;height:7px;background:rgb(234,172,172);box-sizing:border-box;background-clip:padding-box;border-top:1px solid rgba(234,172,172,.74);border-right:1px solid rgba(234,172,172,.60);border-bottom:1px solid rgba(234,172,172,.19);border-left:1px solid rgba(234,172,172,.80);"></div>
<div class="b" style="left:584px;top:513px;width:68px;height:6px;background:rgb(238,203,201);box-sizing:border-box;background-clip:padding-box;border-bottom:1px solid rgba(238,203,201,.82);border-left:1px solid rgba(238,203,201,.70);"></div>
<div class="b" style="left:654px;top:513px;width:69px;height:6px;background:rgb(239,190,190);box-sizing:border-box;background-clip:padding-box;border-right:1px solid rgba(239,190,190,.60);border-bottom:1px solid rgba(239,190,190,.82);border-left:1px solid rgba(239,190,190,.80);"></div>
<div class="b" style="left:584px;top:533px;width:68px;height:7px;background:rgb(241,215,213);box-sizing:border-box;background-clip:padding-box;border-top:1px solid rgba(241,215,213,.48);border-bottom:1px solid rgba(241,215,213,.45);border-left:1px solid rgba(241,215,213,.70);"></div>
<div class="b" style="left:654px;top:533px;width:69px;height:7px;background:rgb(240,193,193);box-sizing:border-box;background-clip:padding-box;border-top:1px solid rgba(240,193,193,.48);border-right:1px solid rgba(240,193,193,.60);border-bottom:1px solid rgba(240,193,193,.45);border-left:1px solid rgba(240,193,193,.80);"></div>
<div class="b" style="left:584px;top:554px;width:68px;height:6px;background:rgb(197,195,180);box-sizing:border-box;background-clip:padding-box;border-top:1px solid rgba(197,195,180,.85);border-left:1px solid rgba(197,195,180,.70);"></div>
<div class="b" style="left:654px;top:554px;width:69px;height:6px;background:rgb(197,187,172);box-sizing:border-box;background-clip:padding-box;border-top:1px solid rgba(197,187,172,.85);border-right:1px solid rgba(197,187,172,.60);border-left:1px solid rgba(197,187,172,.80);"></div>
<div class="b" style="left:584px;top:574px;width:68px;height:7px;background:rgb(157,212,181);box-sizing:border-box;background-clip:padding-box;border-top:1px solid rgba(157,212,181,.22);border-bottom:1px solid rgba(157,212,181,.71);border-left:1px solid rgba(157,212,181,.70);"></div>
<div class="b" style="left:654px;top:574px;width:69px;height:7px;background:rgb(160,213,183);box-sizing:border-box;background-clip:padding-box;border-top:1px solid rgba(160,213,183,.22);border-right:1px solid rgba(160,213,183,.60);border-bottom:1px solid rgba(160,213,183,.71);border-left:1px solid rgba(160,213,183,.80);"></div>
<div class="b" style="left:584px;top:595px;width:68px;height:7px;background:rgb(183,224,201);box-sizing:border-box;background-clip:padding-box;border-top:1px solid rgba(183,224,201,.59);border-bottom:1px solid rgba(183,224,201,.34);border-left:1px solid rgba(183,224,201,.70);"></div>
<div class="b" style="left:654px;top:595px;width:69px;height:7px;background:rgb(172,219,192);box-sizing:border-box;background-clip:padding-box;border-top:1px solid rgba(172,219,192,.59);border-right:1px solid rgba(172,219,192,.60);border-bottom:1px solid rgba(172,219,192,.34);border-left:1px solid rgba(172,219,192,.80);"></div>
<div class="b" style="left:584px;top:616px;width:68px;height:6px;background:rgb(232,245,238);box-sizing:border-box;background-clip:padding-box;border-left:1px solid rgba(232,245,238,.70);"></div>
<div class="b" style="left:654px;top:616px;width:69px;height:6px;background:rgb(220,240,228);box-sizing:border-box;background-clip:padding-box;border-right:1px solid rgba(220,240,228,.60);border-left:1px solid rgba(220,240,228,.80);"></div>
<div class="b" style="left:584px;top:636px;width:68px;height:7px;background:rgb(248,226,226);box-sizing:border-box;background-clip:padding-box;border-top:1px solid rgba(248,226,226,.33);border-bottom:1px solid rgba(248,226,226,.60);border-left:1px solid rgba(248,226,226,.70);"></div>
<div class="b" style="left:654px;top:636px;width:69px;height:7px;background:rgb(245,220,219);box-sizing:border-box;background-clip:padding-box;border-top:1px solid rgba(245,220,219,.33);border-right:1px solid rgba(245,220,219,.60);border-bottom:1px solid rgba(245,220,219,.60);border-left:1px solid rgba(245,220,219,.80);"></div>
<div class="b" style="left:650px;top:228px;width:7px;height:19px;background:rgb(236,178,178);box-sizing:border-box;background-clip:padding-box;border-top:1px solid rgba(236,178,178,.70);border-right:1px solid rgba(236,178,178,.20);"></div>
<div class="b" style="left:650px;top:249px;width:7px;height:19px;background:rgb(236,178,178);box-sizing:border-box;background-clip:padding-box;border-right:1px solid rgba(236,178,178,.20);border-bottom:1px solid rgba(236,178,178,.63);"></div>
<div class="b" style="left:650px;top:269px;width:7px;height:20px;background:rgb(250,236,236);box-sizing:border-box;background-clip:padding-box;border-top:1px solid rgba(250,236,236,.44);border-right:1px solid rgba(250,236,236,.20);border-bottom:1px solid rgba(250,236,236,.26);"></div>
<div class="b" style="left:650px;top:290px;width:7px;height:19px;background:rgb(236,178,178);box-sizing:border-box;background-clip:padding-box;border-top:1px solid rgba(236,178,178,.81);border-right:1px solid rgba(236,178,178,.20);"></div>
<div class="b" style="left:650px;top:310px;width:7px;height:20px;background:rgb(199,231,213);box-sizing:border-box;background-clip:padding-box;border-top:1px solid rgba(199,231,213,.18);border-right:1px solid rgba(199,231,213,.20);border-bottom:1px solid rgba(199,231,213,.52);"></div>
<div class="b" style="left:650px;top:331px;width:7px;height:20px;background:rgb(249,247,246);box-sizing:border-box;background-clip:padding-box;border-top:1px solid rgba(249,247,246,.55);border-right:1px solid rgba(249,247,246,.20);border-bottom:1px solid rgba(249,247,246,.15);"></div>
<div class="b" style="left:650px;top:352px;width:7px;height:19px;background:rgb(238,187,187);box-sizing:border-box;background-clip:padding-box;border-right:1px solid rgba(238,187,187,.20);border-bottom:1px solid rgba(238,187,187,.78);"></div>
<div class="b" style="left:650px;top:372px;width:7px;height:20px;background:rgb(191,227,207);box-sizing:border-box;background-clip:padding-box;border-top:1px solid rgba(191,227,207,.29);border-right:1px solid rgba(191,227,207,.20);border-bottom:1px solid rgba(191,227,207,.41);"></div>
<div class="b" style="left:650px;top:393px;width:7px;height:19px;background:rgb(236,178,178);box-sizing:border-box;background-clip:padding-box;border-top:1px solid rgba(236,178,178,.66);border-right:1px solid rgba(236,178,178,.20);"></div>
<div class="b" style="left:650px;top:414px;width:7px;height:19px;background:rgb(250,252,251);box-sizing:border-box;background-clip:padding-box;border-right:1px solid rgba(250,252,251,.20);border-bottom:1px solid rgba(250,252,251,.67);"></div>
<div class="b" style="left:650px;top:434px;width:7px;height:20px;background:rgb(242,201,201);box-sizing:border-box;background-clip:padding-box;border-top:1px solid rgba(242,201,201,.40);border-right:1px solid rgba(242,201,201,.20);border-bottom:1px solid rgba(242,201,201,.30);"></div>
<div class="b" style="left:650px;top:455px;width:7px;height:19px;background:rgb(214,224,212);box-sizing:border-box;background-clip:padding-box;border-top:1px solid rgba(214,224,212,.77);border-right:1px solid rgba(214,224,212,.20);"></div>
<div class="b" style="left:650px;top:475px;width:7px;height:20px;background:rgb(249,229,229);box-sizing:border-box;background-clip:padding-box;border-top:1px solid rgba(249,229,229,.14);border-right:1px solid rgba(249,229,229,.20);border-bottom:1px solid rgba(249,229,229,.56);"></div>
<div class="b" style="left:650px;top:496px;width:7px;height:20px;background:rgb(236,179,179);box-sizing:border-box;background-clip:padding-box;border-top:1px solid rgba(236,179,179,.51);border-right:1px solid rgba(236,179,179,.20);border-bottom:1px solid rgba(236,179,179,.19);"></div>
<div class="b" style="left:650px;top:517px;width:7px;height:19px;background:rgb(249,243,242);box-sizing:border-box;background-clip:padding-box;border-right:1px solid rgba(249,243,242,.20);border-bottom:1px solid rgba(249,243,242,.82);"></div>
<div class="b" style="left:650px;top:537px;width:7px;height:20px;background:rgb(239,190,190);box-sizing:border-box;background-clip:padding-box;border-top:1px solid rgba(239,190,190,.25);border-right:1px solid rgba(239,190,190,.20);border-bottom:1px solid rgba(239,190,190,.45);"></div>
<div class="b" style="left:650px;top:558px;width:7px;height:19px;background:rgb(183,224,201);box-sizing:border-box;background-clip:padding-box;border-top:1px solid rgba(183,224,201,.62);border-right:1px solid rgba(183,224,201,.20);"></div>
<div class="b" style="left:650px;top:579px;width:7px;height:19px;background:rgb(182,223,200);box-sizing:border-box;background-clip:padding-box;border-right:1px solid rgba(182,223,200,.20);border-bottom:1px solid rgba(182,223,200,.71);"></div>
<div class="b" style="left:650px;top:599px;width:7px;height:20px;background:rgb(212,236,223);box-sizing:border-box;background-clip:padding-box;border-top:1px solid rgba(212,236,223,.36);border-right:1px solid rgba(212,236,223,.20);border-bottom:1px solid rgba(212,236,223,.34);"></div>
<div class="b" style="left:650px;top:620px;width:7px;height:19px;background:rgb(254,255,254);box-sizing:border-box;background-clip:padding-box;border-top:1px solid rgba(254,255,254,.73);border-right:1px solid rgba(254,255,254,.20);"></div>
<div class="b" style="left:650px;top:641px;width:7px;height:19px;background:rgb(243,207,207);box-sizing:border-box;background-clip:padding-box;border-right:1px solid rgba(243,207,207,.20);border-bottom:1px solid rgba(243,207,207,.60);"></div>
<div class="b" style="left:5px;top:228px;width:138px;height:19px;background:#90cf4f;box-sizing:border-box;background-clip:padding-box;border-right:1px solid rgba(144,207,79,.60);border-bottom:1px solid rgba(144,207,79,.60);border-left:1px solid rgba(144,207,79,.30);"></div>
<div class="t" style="top:231px;font-size:11px;line-height:14px;color:#fff;left:26.3px;">Austria</div>
<div class="t" style="top:232px;font-size:10.4px;line-height:13px;color:#1c1c1c;font-weight:400;left:-114.7px;width:300px;text-align:right;transform:scaleX(1.06);transform-origin:right center;-webkit-text-stroke:.3px #1c1c1c;">177</div>
<div class="t" style="top:232px;font-size:10.4px;line-height:13px;color:#1c1c1c;font-weight:400;left:-70.75px;width:300px;text-align:right;transform:scaleX(1.06);transform-origin:right center;-webkit-text-stroke:.3px #1c1c1c;">40</div>
<div class="t" style="top:232px;font-size:10.4px;line-height:13px;color:#1c1c1c;font-weight:400;left:-26.8px;width:300px;text-align:right;transform:scaleX(1.06);transform-origin:right center;-webkit-text-stroke:.3px #1c1c1c;">67</div>
<div class="t" style="top:232px;font-size:10.4px;line-height:13px;color:#1c1c1c;font-weight:400;left:17.15px;width:300px;text-align:right;transform:scaleX(1.06);transform-origin:right center;-webkit-text-stroke:.3px #1c1c1c;">184</div>
<div class="t" style="top:232px;font-size:10.4px;line-height:13px;color:#1c1c1c;font-weight:400;left:61.1px;width:300px;text-align:right;transform:scaleX(1.06);transform-origin:right center;-webkit-text-stroke:.3px #1c1c1c;">146</div>
<div class="t" style="top:232px;font-size:10.4px;line-height:13px;color:#1c1c1c;font-weight:400;left:105.05px;width:300px;text-align:right;transform:scaleX(1.06);transform-origin:right center;-webkit-text-stroke:.3px #1c1c1c;">126</div>
<div class="t" style="top:232px;font-size:10.4px;line-height:13px;color:#1c1c1c;font-weight:400;left:149px;width:300px;text-align:right;transform:scaleX(1.06);transform-origin:right center;-webkit-text-stroke:.3px #1c1c1c;">120</div>
<div class="t" style="top:232px;font-size:10.4px;line-height:13px;color:#1c1c1c;font-weight:400;left:192.95px;width:300px;text-align:right;transform:scaleX(1.06);transform-origin:right center;-webkit-text-stroke:.3px #1c1c1c;">151</div>
<div class="t" style="top:232px;font-size:10.4px;line-height:13px;color:#1c1c1c;font-weight:400;left:236.9px;width:300px;text-align:right;transform:scaleX(1.06);transform-origin:right center;-webkit-text-stroke:.3px #1c1c1c;">116</div>
<div class="t" style="top:232px;font-size:10.4px;line-height:13px;color:#1c1c1c;font-weight:400;left:280.85px;width:300px;text-align:right;transform:scaleX(1.06);transform-origin:right center;-webkit-text-stroke:.3px #1c1c1c;">59</div>
<div class="b" style="left:584px;top:228px;width:68px;height:19px;background:rgb(192,0,0);box-sizing:border-box;background-clip:padding-box;border-top:1px solid rgba(192,0,0,.70);border-left:1px solid rgba(192,0,0,.70);"></div>
<svg style="left:583.9px;top:231.4px" width="12" height="14" viewBox="0 0 12 14" aria-hidden="true"><path d="M6 2.4V12.2M2.5 6 6 2.4 9.5 6" fill="none" stroke="#e8603a" stroke-width="1.5" stroke-linecap="round" stroke-linejoin="round" transform="rotate(180 6 7)"/></svg>
<div class="t" style="top:231px;font-size:9.5px;line-height:13px;color:#fff;left:332px;width:300px;text-align:right;">-49,1%</div>
<div class="b" style="left:654px;top:228px;width:69px;height:19px;background:rgb(192,0,0);box-sizing:border-box;background-clip:padding-box;border-top:1px solid rgba(192,0,0,.70);border-right:1px solid rgba(192,0,0,.60);border-left:1px solid rgba(192,0,0,.80);"></div>
<svg style="left:653.8px;top:231.4px" width="12" height="14" viewBox="0 0 12 14" aria-hidden="true"><path d="M6 2.4V12.2M2.5 6 6 2.4 9.5 6" fill="none" stroke="#e8603a" stroke-width="1.5" stroke-linecap="round" stroke-linejoin="round" transform="rotate(180 6 7)"/></svg>
<div class="t" style="top:231px;font-size:9.5px;line-height:13px;color:#fff;left:401.6px;width:300px;text-align:right;">-54,2%</div>
<div class="b" style="left:5px;top:248px;width:138px;height:20px;background:#90cf4f;box-sizing:border-box;background-clip:padding-box;border-top:1px solid rgba(144,207,79,.37);border-right:1px solid rgba(144,207,79,.60);border-bottom:1px solid rgba(144,207,79,.23);border-left:1px solid rgba(144,207,79,.30);"></div>
<div class="t" style="top:251px;font-size:11px;line-height:14px;color:#fff;left:26.3px;">Belgium</div>
<div class="t" style="top:252px;font-size:10.4px;line-height:13px;color:#1c1c1c;font-weight:400;left:-114.7px;width:300px;text-align:right;transform:scaleX(1.06);transform-origin:right center;-webkit-text-stroke:.3px #1c1c1c;">285</div>
<div class="t" style="top:252px;font-size:10.4px;line-height:13px;color:#1c1c1c;font-weight:400;left:-70.75px;width:300px;text-align:right;transform:scaleX(1.06);transform-origin:right center;-webkit-text-stroke:.3px #1c1c1c;">234</div>
<div class="t" style="top:252px;font-size:10.4px;line-height:13px;color:#1c1c1c;font-weight:400;left:-26.8px;width:300px;text-align:right;transform:scaleX(1.06);transform-origin:right center;-webkit-text-stroke:.3px #1c1c1c;">88</div>
<div class="t" style="top:252px;font-size:10.4px;line-height:13px;color:#1c1c1c;font-weight:400;left:17.15px;width:300px;text-align:right;transform:scaleX(1.06);transform-origin:right center;-webkit-text-stroke:.3px #1c1c1c;">231</div>
<div class="t" style="top:252px;font-size:10.4px;line-height:13px;color:#1c1c1c;font-weight:400;left:61.1px;width:300px;text-align:right;transform:scaleX(1.06);transform-origin:right center;-webkit-text-stroke:.3px #1c1c1c;">242</div>
<div class="t" style="top:252px;font-size:10.4px;line-height:13px;color:#1c1c1c;font-weight:400;left:105.05px;width:300px;text-align:right;transform:scaleX(1.06);transform-origin:right center;-webkit-text-stroke:.3px #1c1c1c;">168</div>
<div class="t" style="top:252px;font-size:10.4px;line-height:13px;color:#1c1c1c;font-weight:400;left:149px;width:300px;text-align:right;transform:scaleX(1.06);transform-origin:right center;-webkit-text-stroke:.3px #1c1c1c;">250</div>
<div class="t" style="top:252px;font-size:10.4px;line-height:13px;color:#1c1c1c;font-weight:400;left:192.95px;width:300px;text-align:right;transform:scaleX(1.06);transform-origin:right center;-webkit-text-stroke:.3px #1c1c1c;">239</div>
<div class="t" style="top:252px;font-size:10.4px;line-height:13px;color:#1c1c1c;font-weight:400;left:236.9px;width:300px;text-align:right;transform:scaleX(1.06);transform-origin:right center;-webkit-text-stroke:.3px #1c1c1c;">203</div>
<div class="t" style="top:252px;font-size:10.4px;line-height:13px;color:#1c1c1c;font-weight:400;left:280.85px;width:300px;text-align:right;transform:scaleX(1.06);transform-origin:right center;-webkit-text-stroke:.3px #1c1c1c;">133</div>
<div class="b" style="left:584px;top:249px;width:68px;height:19px;background:rgb(192,0,0);box-sizing:border-box;background-clip:padding-box;border-bottom:1px solid rgba(192,0,0,.63);border-left:1px solid rgba(192,0,0,.70);"></div>
<svg style="left:583.9px;top:252.03px" width="12" height="14" viewBox="0 0 12 14" aria-hidden="true"><path d="M6 2.4V12.2M2.5 6 6 2.4 9.5 6" fill="none" stroke="#e8603a" stroke-width="1.5" stroke-linecap="round" stroke-linejoin="round" transform="rotate(180 6 7)"/></svg>
<div class="t" style="top:252px;font-size:9.5px;line-height:13px;color:#fff;left:332px;width:300px;text-align:right;">-34,3%</div>
<div class="b" style="left:654px;top:249px;width:69px;height:19px;background:rgb(192,0,0);box-sizing:border-box;background-clip:padding-box;border-right:1px solid rgba(192,0,0,.60);border-bottom:1px solid rgba(192,0,0,.63);border-left:1px solid rgba(192,0,0,.80);"></div>
<svg style="left:653.8px;top:252.03px" width="12" height="14" viewBox="0 0 12 14" aria-hidden="true"><path d="M6 2.4V12.2M2.5 6 6 2.4 9.5 6" fill="none" stroke="#e8603a" stroke-width="1.5" stroke-linecap="round" stroke-linejoin="round" transform="rotate(180 6 7)"/></svg>
<div class="t" style="top:252px;font-size:9.5px;line-height:13px;color:#fff;left:401.6px;width:300px;text-align:right;">-42,1%</div>
<div class="b" style="left:5px;top:269px;width:138px;height:19px;background:#90cf4f;box-sizing:border-box;background-clip:padding-box;border-top:1px solid rgba(144,207,79,.74);border-right:1px solid rgba(144,207,79,.60);border-bottom:1px solid rgba(144,207,79,.86);border-left:1px solid rgba(144,207,79,.30);"></div>
<div class="t" style="top:272px;font-size:11px;line-height:14px;color:#fff;left:26.3px;">Croatia</div>
<div class="t" style="top:273px;font-size:10.4px;line-height:13px;color:#1c1c1c;font-weight:400;left:-114.7px;width:300px;text-align:right;transform:scaleX(1.06);transform-origin:right center;-webkit-text-stroke:.3px #1c1c1c;">101</div>
<div class="t" style="top:273px;font-size:10.4px;line-height:13px;color:#1c1c1c;font-weight:400;left:-70.75px;width:300px;text-align:right;transform:scaleX(1.06);transform-origin:right center;-webkit-text-stroke:.3px #1c1c1c;">35</div>
<div class="t" style="top:273px;font-size:10.4px;line-height:13px;color:#1c1c1c;font-weight:400;left:-26.8px;width:300px;text-align:right;transform:scaleX(1.06);transform-origin:right center;-webkit-text-stroke:.3px #1c1c1c;">66</div>
<div class="t" style="top:273px;font-size:10.4px;line-height:13px;color:#1c1c1c;font-weight:400;left:17.15px;width:300px;text-align:right;transform:scaleX(1.06);transform-origin:right center;-webkit-text-stroke:.3px #1c1c1c;">86</div>
<div class="t" style="top:273px;font-size:10.4px;line-height:13px;color:#1c1c1c;font-weight:400;left:61.1px;width:300px;text-align:right;transform:scaleX(1.06);transform-origin:right center;-webkit-text-stroke:.3px #1c1c1c;">60</div>
<div class="t" style="top:273px;font-size:10.4px;line-height:13px;color:#1c1c1c;font-weight:400;left:105.05px;width:300px;text-align:right;transform:scaleX(1.06);transform-origin:right center;-webkit-text-stroke:.3px #1c1c1c;">55</div>
<div class="t" style="top:273px;font-size:10.4px;line-height:13px;color:#1c1c1c;font-weight:400;left:149px;width:300px;text-align:right;transform:scaleX(1.06);transform-origin:right center;-webkit-text-stroke:.3px #1c1c1c;">65</div>
<div class="t" style="top:273px;font-size:10.4px;line-height:13px;color:#1c1c1c;font-weight:400;left:192.95px;width:300px;text-align:right;transform:scaleX(1.06);transform-origin:right center;-webkit-text-stroke:.3px #1c1c1c;">57</div>
<div class="t" style="top:273px;font-size:10.4px;line-height:13px;color:#1c1c1c;font-weight:400;left:236.9px;width:300px;text-align:right;transform:scaleX(1.06);transform-origin:right center;-webkit-text-stroke:.3px #1c1c1c;">66</div>
<div class="t" style="top:273px;font-size:10.4px;line-height:13px;color:#1c1c1c;font-weight:400;left:280.85px;width:300px;text-align:right;transform:scaleX(1.06);transform-origin:right center;-webkit-text-stroke:.3px #1c1c1c;">61</div>
<div class="b" style="left:584px;top:269px;width:68px;height:20px;background:rgb(231,159,159);box-sizing:border-box;background-clip:padding-box;border-top:1px solid rgba(231,159,159,.44);border-bottom:1px solid rgba(231,159,159,.26);border-left:1px solid rgba(231,159,159,.70);"></div>
<svg style="left:583.9px;top:272.66px" width="12" height="14" viewBox="0 0 12 14" aria-hidden="true"><path d="M6 1 11.1 6.4 10 7.8 7.9 6.5V13H4.1V6.5L2 7.8 .9 6.4Z" fill="#bd533c" stroke="#bd533c" stroke-width=".8" stroke-linejoin="round" transform="rotate(180 6 7)"/></svg>
<div class="t" style="top:272px;font-size:9.5px;line-height:13px;color:#fff;left:332px;width:300px;text-align:right;">-7,5%</div>
<div class="b" style="left:654px;top:269px;width:69px;height:20px;background:rgb(246,221,221);box-sizing:border-box;background-clip:padding-box;border-top:1px solid rgba(246,221,221,.44);border-right:1px solid rgba(246,221,221,.60);border-bottom:1px solid rgba(246,221,221,.26);border-left:1px solid rgba(246,221,221,.80);"></div>
<svg style="left:653.8px;top:272.66px" width="12" height="14" viewBox="0 0 12 14" aria-hidden="true"><path d="M6 1 11.1 6.4 10 7.8 7.9 6.5V13H4.1V6.5L2 7.8 .9 6.4Z" fill="#bd533c" stroke="#bd533c" stroke-width=".8" stroke-linejoin="round" transform="rotate(180 6 7)"/></svg>
<div class="t" style="top:272px;font-size:9.5px;line-height:13px;color:#2a2a2a;left:401.6px;width:300px;text-align:right;">-2,7%</div>
<div class="b" style="left:5px;top:290px;width:138px;height:19px;background:#90cf4f;box-sizing:border-box;background-clip:padding-box;border-right:1px solid rgba(144,207,79,.60);border-bottom:1px solid rgba(144,207,79,.49);border-left:1px solid rgba(144,207,79,.30);"></div>
<div class="t" style="top:293px;font-size:11px;line-height:14px;color:#fff;left:26.3px;">Czechia</div>
<div class="t" style="top:294px;font-size:10.4px;line-height:13px;color:#1c1c1c;font-weight:400;left:-114.7px;width:300px;text-align:right;transform:scaleX(1.06);transform-origin:right center;-webkit-text-stroke:.3px #1c1c1c;">156</div>
<div class="t" style="top:294px;font-size:10.4px;line-height:13px;color:#1c1c1c;font-weight:400;left:-70.75px;width:300px;text-align:right;transform:scaleX(1.06);transform-origin:right center;-webkit-text-stroke:.3px #1c1c1c;">139</div>
<div class="t" style="top:294px;font-size:10.4px;line-height:13px;color:#1c1c1c;font-weight:400;left:-26.8px;width:300px;text-align:right;transform:scaleX(1.06);transform-origin:right center;-webkit-text-stroke:.3px #1c1c1c;">102</div>
<div class="t" style="top:294px;font-size:10.4px;line-height:13px;color:#1c1c1c;font-weight:400;left:17.15px;width:300px;text-align:right;transform:scaleX(1.06);transform-origin:right center;-webkit-text-stroke:.3px #1c1c1c;">145</div>
<div class="t" style="top:294px;font-size:10.4px;line-height:13px;color:#1c1c1c;font-weight:400;left:61.1px;width:300px;text-align:right;transform:scaleX(1.06);transform-origin:right center;-webkit-text-stroke:.3px #1c1c1c;">103</div>
<div class="t" style="top:294px;font-size:10.4px;line-height:13px;color:#1c1c1c;font-weight:400;left:105.05px;width:300px;text-align:right;transform:scaleX(1.06);transform-origin:right center;-webkit-text-stroke:.3px #1c1c1c;">118</div>
<div class="t" style="top:294px;font-size:10.4px;line-height:13px;color:#1c1c1c;font-weight:400;left:149px;width:300px;text-align:right;transform:scaleX(1.06);transform-origin:right center;-webkit-text-stroke:.3px #1c1c1c;">110</div>
<div class="t" style="top:294px;font-size:10.4px;line-height:13px;color:#1c1c1c;font-weight:400;left:192.95px;width:300px;text-align:right;transform:scaleX(1.06);transform-origin:right center;-webkit-text-stroke:.3px #1c1c1c;">138</div>
<div class="t" style="top:294px;font-size:10.4px;line-height:13px;color:#1c1c1c;font-weight:400;left:236.9px;width:300px;text-align:right;transform:scaleX(1.06);transform-origin:right center;-webkit-text-stroke:.3px #1c1c1c;">101</div>
<div class="t" style="top:294px;font-size:10.4px;line-height:13px;color:#1c1c1c;font-weight:400;left:280.85px;width:300px;text-align:right;transform:scaleX(1.06);transform-origin:right center;-webkit-text-stroke:.3px #1c1c1c;">24</div>
<div class="b" style="left:584px;top:290px;width:68px;height:19px;background:rgb(192,0,0);box-sizing:border-box;background-clip:padding-box;border-top:1px solid rgba(192,0,0,.81);border-left:1px solid rgba(192,0,0,.70);"></div>
<svg style="left:583.9px;top:293.29px" width="12" height="14" viewBox="0 0 12 14" aria-hidden="true"><path d="M6 2.4V12.2M2.5 6 6 2.4 9.5 6" fill="none" stroke="#e8603a" stroke-width="1.5" stroke-linecap="round" stroke-linejoin="round" transform="rotate(180 6 7)"/></svg>
<div class="t" style="top:293px;font-size:9.5px;line-height:13px;color:#fff;left:332px;width:300px;text-align:right;">-76,3%</div>
<div class="b" style="left:654px;top:290px;width:69px;height:19px;background:rgb(192,0,0);box-sizing:border-box;background-clip:padding-box;border-top:1px solid rgba(192,0,0,.81);border-right:1px solid rgba(192,0,0,.60);border-left:1px solid rgba(192,0,0,.80);"></div>
<svg style="left:653.8px;top:293.29px" width="12" height="14" viewBox="0 0 12 14" aria-hidden="true"><path d="M6 2.4V12.2M2.5 6 6 2.4 9.5 6" fill="none" stroke="#e8603a" stroke-width="1.5" stroke-linecap="round" stroke-linejoin="round" transform="rotate(180 6 7)"/></svg>
<div class="t" style="top:293px;font-size:9.5px;line-height:13px;color:#fff;left:401.6px;width:300px;text-align:right;">-79,5%</div>
<div class="b" style="left:5px;top:310px;width:138px;height:19px;background:#90cf4f;box-sizing:border-box;background-clip:padding-box;border-top:1px solid rgba(144,207,79,.48);border-right:1px solid rgba(144,207,79,.60);border-left:1px solid rgba(144,207,79,.30);"></div>
<div class="t" style="top:313px;font-size:11px;line-height:14px;color:#fff;left:26.3px;">Denmark</div>
<div class="t" style="top:314px;font-size:10.4px;line-height:13px;color:#1c1c1c;font-weight:400;left:-114.7px;width:300px;text-align:right;transform:scaleX(1.06);transform-origin:right center;-webkit-text-stroke:.3px #1c1c1c;">24</div>
<div class="t" style="top:314px;font-size:10.4px;line-height:13px;color:#1c1c1c;font-weight:400;left:-70.75px;width:300px;text-align:right;transform:scaleX(1.06);transform-origin:right center;-webkit-text-stroke:.3px #1c1c1c;">24</div>
<div class="t" style="top:314px;font-size:10.4px;line-height:13px;color:#1c1c1c;font-weight:400;left:-26.8px;width:300px;text-align:right;transform:scaleX(1.06);transform-origin:right center;-webkit-text-stroke:.3px #1c1c1c;">19</div>
<div class="t" style="top:314px;font-size:10.4px;line-height:13px;color:#1c1c1c;font-weight:400;left:17.15px;width:300px;text-align:right;transform:scaleX(1.06);transform-origin:right center;-webkit-text-stroke:.3px #1c1c1c;">24</div>
<div class="t" style="top:314px;font-size:10.4px;line-height:13px;color:#1c1c1c;font-weight:400;left:61.1px;width:300px;text-align:right;transform:scaleX(1.06);transform-origin:right center;-webkit-text-stroke:.3px #1c1c1c;">15</div>
<div class="t" style="top:314px;font-size:10.4px;line-height:13px;color:#1c1c1c;font-weight:400;left:105.05px;width:300px;text-align:right;transform:scaleX(1.06);transform-origin:right center;-webkit-text-stroke:.3px #1c1c1c;">24</div>
<div class="t" style="top:314px;font-size:10.4px;line-height:13px;color:#1c1c1c;font-weight:400;left:149px;width:300px;text-align:right;transform:scaleX(1.06);transform-origin:right center;-webkit-text-stroke:.3px #1c1c1c;">18</div>
<div class="t" style="top:314px;font-size:10.4px;line-height:13px;color:#1c1c1c;font-weight:400;left:192.95px;width:300px;text-align:right;transform:scaleX(1.06);transform-origin:right center;-webkit-text-stroke:.3px #1c1c1c;">24</div>
<div class="t" style="top:314px;font-size:10.4px;line-height:13px;color:#1c1c1c;font-weight:400;left:236.9px;width:300px;text-align:right;transform:scaleX(1.06);transform-origin:right center;-webkit-text-stroke:.3px #1c1c1c;">15</div>
<div class="t" style="top:314px;font-size:10.4px;line-height:13px;color:#1c1c1c;font-weight:400;left:280.85px;width:300px;text-align:right;transform:scaleX(1.06);transform-origin:right center;-webkit-text-stroke:.3px #1c1c1c;">21</div>
<div class="b" style="left:584px;top:310px;width:68px;height:20px;background:rgb(10,148,70);box-sizing:border-box;background-clip:padding-box;border-top:1px solid rgba(10,148,70,.18);border-bottom:1px solid rgba(10,148,70,.52);border-left:1px solid rgba(10,148,70,.70);"></div>
<svg style="left:583.9px;top:313.92px" width="12" height="14" viewBox="0 0 12 14" aria-hidden="true"><path d="M6 2.4V12.2M2.5 6 6 2.4 9.5 6" fill="none" stroke="#5fae8a" stroke-width="1.5" stroke-linecap="round" stroke-linejoin="round"/></svg>
<div class="t" style="top:314px;font-size:9.5px;line-height:13px;color:#fff;left:332px;width:300px;text-align:right;">40,0%</div>
<div class="b" style="left:654px;top:310px;width:69px;height:20px;background:rgb(126,199,158);box-sizing:border-box;background-clip:padding-box;border-top:1px solid rgba(126,199,158,.18);border-right:1px solid rgba(126,199,158,.60);border-bottom:1px solid rgba(126,199,158,.52);border-left:1px solid rgba(126,199,158,.80);"></div>
<svg style="left:653.8px;top:313.92px" width="12" height="14" viewBox="0 0 12 14" aria-hidden="true"><path d="M6 1 11.1 6.4 10 7.8 7.9 6.5V13H4.1V6.5L2 7.8 .9 6.4Z" fill="#4b9075" stroke="#4b9075" stroke-width=".8" stroke-linejoin="round"/></svg>
<div class="t" style="top:314px;font-size:9.5px;line-height:13px;color:#fff;left:401.6px;width:300px;text-align:right;">10,5%</div>
<div class="b" style="left:5px;top:331px;width:138px;height:19px;background:#90cf4f;box-sizing:border-box;background-clip:padding-box;border-top:1px solid rgba(144,207,79,.85);border-right:1px solid rgba(144,207,79,.60);border-bottom:1px solid rgba(144,207,79,.75);border-left:1px solid rgba(144,207,79,.30);"></div>
<div class="t" style="top:334px;font-size:11px;line-height:14px;color:#fff;left:26.3px;">France</div>
<div class="t" style="top:335px;font-size:10.4px;line-height:13px;color:#1c1c1c;font-weight:400;left:-114.7px;width:300px;text-align:right;transform:scaleX(1.06);transform-origin:right center;-webkit-text-stroke:.3px #1c1c1c;">1.674</div>
<div class="t" style="top:335px;font-size:10.4px;line-height:13px;color:#1c1c1c;font-weight:400;left:-70.75px;width:300px;text-align:right;transform:scaleX(1.06);transform-origin:right center;-webkit-text-stroke:.3px #1c1c1c;">1.514</div>
<div class="t" style="top:335px;font-size:10.4px;line-height:13px;color:#1c1c1c;font-weight:400;left:-26.8px;width:300px;text-align:right;transform:scaleX(1.06);transform-origin:right center;-webkit-text-stroke:.3px #1c1c1c;">1.424</div>
<div class="t" style="top:335px;font-size:10.4px;line-height:13px;color:#1c1c1c;font-weight:400;left:17.15px;width:300px;text-align:right;transform:scaleX(1.06);transform-origin:right center;-webkit-text-stroke:.3px #1c1c1c;">1.477</div>
<div class="t" style="top:335px;font-size:10.4px;line-height:13px;color:#1c1c1c;font-weight:400;left:61.1px;width:300px;text-align:right;transform:scaleX(1.06);transform-origin:right center;-webkit-text-stroke:.3px #1c1c1c;">1.651</div>
<div class="t" style="top:335px;font-size:10.4px;line-height:13px;color:#1c1c1c;font-weight:400;left:105.05px;width:300px;text-align:right;transform:scaleX(1.06);transform-origin:right center;-webkit-text-stroke:.3px #1c1c1c;">1.337</div>
<div class="t" style="top:335px;font-size:10.4px;line-height:13px;color:#1c1c1c;font-weight:400;left:149px;width:300px;text-align:right;transform:scaleX(1.06);transform-origin:right center;-webkit-text-stroke:.3px #1c1c1c;">1.383</div>
<div class="t" style="top:335px;font-size:10.4px;line-height:13px;color:#1c1c1c;font-weight:400;left:192.95px;width:300px;text-align:right;transform:scaleX(1.06);transform-origin:right center;-webkit-text-stroke:.3px #1c1c1c;">1.391</div>
<div class="t" style="top:335px;font-size:10.4px;line-height:13px;color:#1c1c1c;font-weight:400;left:236.9px;width:300px;text-align:right;transform:scaleX(1.06);transform-origin:right center;-webkit-text-stroke:.3px #1c1c1c;">1.508</div>
<div class="t" style="top:335px;font-size:10.4px;line-height:13px;color:#1c1c1c;font-weight:400;left:280.85px;width:300px;text-align:right;transform:scaleX(1.06);transform-origin:right center;-webkit-text-stroke:.3px #1c1c1c;">1.463</div>
<div class="b" style="left:584px;top:331px;width:68px;height:20px;background:rgb(246,217,217);box-sizing:border-box;background-clip:padding-box;border-top:1px solid rgba(246,217,217,.55);border-bottom:1px solid rgba(246,217,217,.15);border-left:1px solid rgba(246,217,217,.70);"></div>
<svg style="left:583.9px;top:334.55px" width="12" height="14" viewBox="0 0 12 14" aria-hidden="true"><path d="M6 1 11.1 6.4 10 7.8 7.9 6.5V13H4.1V6.5L2 7.8 .9 6.4Z" fill="#bd533c" stroke="#bd533c" stroke-width=".8" stroke-linejoin="round" transform="rotate(180 6 7)"/></svg>
<div class="t" style="top:334px;font-size:9.5px;line-height:13px;color:#2a2a2a;left:332px;width:300px;text-align:right;">-3,0%</div>
<div class="b" style="left:654px;top:331px;width:69px;height:20px;background:rgb(224,242,232);box-sizing:border-box;background-clip:padding-box;border-top:1px solid rgba(224,242,232,.55);border-right:1px solid rgba(224,242,232,.60);border-bottom:1px solid rgba(224,242,232,.15);border-left:1px solid rgba(224,242,232,.80);"></div>
<svg style="left:653.8px;top:334.55px" width="12" height="14" viewBox="0 0 12 14" aria-hidden="true"><path d="M6 1 11.1 6.4 10 7.8 7.9 6.5V13H4.1V6.5L2 7.8 .9 6.4Z" fill="#4b9075" stroke="#4b9075" stroke-width=".8" stroke-linejoin="round"/></svg>
<div class="t" style="top:334px;font-size:9.5px;line-height:13px;color:#2a2a2a;left:401.6px;width:300px;text-align:right;">2,5%</div>
<div class="b" style="left:5px;top:351px;width:138px;height:20px;background:#90cf4f;box-sizing:border-box;background-clip:padding-box;border-top:1px solid rgba(144,207,79,.22);border-right:1px solid rgba(144,207,79,.60);border-bottom:1px solid rgba(144,207,79,.38);border-left:1px solid rgba(144,207,79,.30);"></div>
<div class="t" style="top:355px;font-size:11px;line-height:14px;color:#fff;left:26.3px;">Germany</div>
<div class="t" style="top:356px;font-size:10.4px;line-height:13px;color:#1c1c1c;font-weight:400;left:-114.7px;width:300px;text-align:right;transform:scaleX(1.06);transform-origin:right center;-webkit-text-stroke:.3px #1c1c1c;">973</div>
<div class="t" style="top:356px;font-size:10.4px;line-height:13px;color:#1c1c1c;font-weight:400;left:-70.75px;width:300px;text-align:right;transform:scaleX(1.06);transform-origin:right center;-webkit-text-stroke:.3px #1c1c1c;">1.033</div>
<div class="t" style="top:356px;font-size:10.4px;line-height:13px;color:#1c1c1c;font-weight:400;left:-26.8px;width:300px;text-align:right;transform:scaleX(1.06);transform-origin:right center;-webkit-text-stroke:.3px #1c1c1c;">597</div>
<div class="t" style="top:356px;font-size:10.4px;line-height:13px;color:#1c1c1c;font-weight:400;left:17.15px;width:300px;text-align:right;transform:scaleX(1.06);transform-origin:right center;-webkit-text-stroke:.3px #1c1c1c;">1.093</div>
<div class="t" style="top:356px;font-size:10.4px;line-height:13px;color:#1c1c1c;font-weight:400;left:61.1px;width:300px;text-align:right;transform:scaleX(1.06);transform-origin:right center;-webkit-text-stroke:.3px #1c1c1c;">991</div>
<div class="t" style="top:356px;font-size:10.4px;line-height:13px;color:#1c1c1c;font-weight:400;left:105.05px;width:300px;text-align:right;transform:scaleX(1.06);transform-origin:right center;-webkit-text-stroke:.3px #1c1c1c;">1.023</div>
<div class="t" style="top:356px;font-size:10.4px;line-height:13px;color:#1c1c1c;font-weight:400;left:149px;width:300px;text-align:right;transform:scaleX(1.06);transform-origin:right center;-webkit-text-stroke:.3px #1c1c1c;">1.005</div>
<div class="t" style="top:356px;font-size:10.4px;line-height:13px;color:#1c1c1c;font-weight:400;left:192.95px;width:300px;text-align:right;transform:scaleX(1.06);transform-origin:right center;-webkit-text-stroke:.3px #1c1c1c;">1.072</div>
<div class="t" style="top:356px;font-size:10.4px;line-height:13px;color:#1c1c1c;font-weight:400;left:236.9px;width:300px;text-align:right;transform:scaleX(1.06);transform-origin:right center;-webkit-text-stroke:.3px #1c1c1c;">941</div>
<div class="t" style="top:356px;font-size:10.4px;line-height:13px;color:#1c1c1c;font-weight:400;left:280.85px;width:300px;text-align:right;transform:scaleX(1.06);transform-origin:right center;-webkit-text-stroke:.3px #1c1c1c;">793</div>
<div class="b" style="left:584px;top:352px;width:68px;height:19px;background:rgb(206,55,55);box-sizing:border-box;background-clip:padding-box;border-bottom:1px solid rgba(206,55,55,.78);border-left:1px solid rgba(206,55,55,.70);"></div>
<svg style="left:583.9px;top:355.18px" width="12" height="14" viewBox="0 0 12 14" aria-hidden="true"><path d="M6 2.4V12.2M2.5 6 6 2.4 9.5 6" fill="none" stroke="#e8603a" stroke-width="1.5" stroke-linecap="round" stroke-linejoin="round" transform="rotate(180 6 7)"/></svg>
<div class="t" style="top:355px;font-size:9.5px;line-height:13px;color:#fff;left:332px;width:300px;text-align:right;">-15,7%</div>
<div class="b" style="left:654px;top:352px;width:69px;height:19px;background:rgb(192,0,0);box-sizing:border-box;background-clip:padding-box;border-right:1px solid rgba(192,0,0,.60);border-bottom:1px solid rgba(192,0,0,.78);border-left:1px solid rgba(192,0,0,.80);"></div>
<svg style="left:653.8px;top:355.18px" width="12" height="14" viewBox="0 0 12 14" aria-hidden="true"><path d="M6 2.4V12.2M2.5 6 6 2.4 9.5 6" fill="none" stroke="#e8603a" stroke-width="1.5" stroke-linecap="round" stroke-linejoin="round" transform="rotate(180 6 7)"/></svg>
<div class="t" style="top:355px;font-size:9.5px;line-height:13px;color:#fff;left:401.6px;width:300px;text-align:right;">-21,2%</div>
<div class="b" style="left:5px;top:372px;width:138px;height:19px;background:#90cf4f;box-sizing:border-box;background-clip:padding-box;border-top:1px solid rgba(144,207,79,.59);border-right:1px solid rgba(144,207,79,.60);border-left:1px solid rgba(144,207,79,.30);"></div>
<div class="t" style="top:375px;font-size:11px;line-height:14px;color:#fff;left:26.3px;">Greece</div>
<div class="t" style="top:376px;font-size:10.4px;line-height:13px;color:#1c1c1c;font-weight:400;left:-114.7px;width:300px;text-align:right;transform:scaleX(1.06);transform-origin:right center;-webkit-text-stroke:.3px #1c1c1c;">242</div>
<div class="t" style="top:376px;font-size:10.4px;line-height:13px;color:#1c1c1c;font-weight:400;left:-70.75px;width:300px;text-align:right;transform:scaleX(1.06);transform-origin:right center;-webkit-text-stroke:.3px #1c1c1c;">259</div>
<div class="t" style="top:376px;font-size:10.4px;line-height:13px;color:#1c1c1c;font-weight:400;left:-26.8px;width:300px;text-align:right;transform:scaleX(1.06);transform-origin:right center;-webkit-text-stroke:.3px #1c1c1c;">231</div>
<div class="t" style="top:376px;font-size:10.4px;line-height:13px;color:#1c1c1c;font-weight:400;left:17.15px;width:300px;text-align:right;transform:scaleX(1.06);transform-origin:right center;-webkit-text-stroke:.3px #1c1c1c;">301</div>
<div class="t" style="top:376px;font-size:10.4px;line-height:13px;color:#1c1c1c;font-weight:400;left:61.1px;width:300px;text-align:right;transform:scaleX(1.06);transform-origin:right center;-webkit-text-stroke:.3px #1c1c1c;">276</div>
<div class="t" style="top:376px;font-size:10.4px;line-height:13px;color:#1c1c1c;font-weight:400;left:105.05px;width:300px;text-align:right;transform:scaleX(1.06);transform-origin:right center;-webkit-text-stroke:.3px #1c1c1c;">280</div>
<div class="t" style="top:376px;font-size:10.4px;line-height:13px;color:#1c1c1c;font-weight:400;left:149px;width:300px;text-align:right;transform:scaleX(1.06);transform-origin:right center;-webkit-text-stroke:.3px #1c1c1c;">246</div>
<div class="t" style="top:376px;font-size:10.4px;line-height:13px;color:#1c1c1c;font-weight:400;left:192.95px;width:300px;text-align:right;transform:scaleX(1.06);transform-origin:right center;-webkit-text-stroke:.3px #1c1c1c;">321</div>
<div class="t" style="top:376px;font-size:10.4px;line-height:13px;color:#1c1c1c;font-weight:400;left:236.9px;width:300px;text-align:right;transform:scaleX(1.06);transform-origin:right center;-webkit-text-stroke:.3px #1c1c1c;">183</div>
<div class="t" style="top:376px;font-size:10.4px;line-height:13px;color:#1c1c1c;font-weight:400;left:280.85px;width:300px;text-align:right;transform:scaleX(1.06);transform-origin:right center;-webkit-text-stroke:.3px #1c1c1c;">287</div>
<div class="b" style="left:584px;top:372px;width:68px;height:20px;background:rgb(10,148,70);box-sizing:border-box;background-clip:padding-box;border-top:1px solid rgba(10,148,70,.29);border-bottom:1px solid rgba(10,148,70,.41);border-left:1px solid rgba(10,148,70,.70);"></div>
<svg style="left:583.9px;top:375.81px" width="12" height="14" viewBox="0 0 12 14" aria-hidden="true"><path d="M6 2.4V12.2M2.5 6 6 2.4 9.5 6" fill="none" stroke="#5fae8a" stroke-width="1.5" stroke-linecap="round" stroke-linejoin="round"/></svg>
<div class="t" style="top:376px;font-size:9.5px;line-height:13px;color:#fff;left:332px;width:300px;text-align:right;">56,4%</div>
<div class="b" style="left:654px;top:372px;width:69px;height:20px;background:rgb(74,176,118);box-sizing:border-box;background-clip:padding-box;border-top:1px solid rgba(74,176,118,.29);border-right:1px solid rgba(74,176,118,.60);border-bottom:1px solid rgba(74,176,118,.41);border-left:1px solid rgba(74,176,118,.80);"></div>
<svg style="left:653.8px;top:375.81px" width="12" height="14" viewBox="0 0 12 14" aria-hidden="true"><path d="M6 1 11.1 6.4 10 7.8 7.9 6.5V13H4.1V6.5L2 7.8 .9 6.4Z" fill="#4b9075" stroke="#4b9075" stroke-width=".8" stroke-linejoin="round"/></svg>
<div class="t" style="top:376px;font-size:9.5px;line-height:13px;color:#fff;left:401.6px;width:300px;text-align:right;">14,8%</div>
<div class="b" style="left:5px;top:393px;width:138px;height:19px;background:#90cf4f;box-sizing:border-box;background-clip:padding-box;border-right:1px solid rgba(144,207,79,.60);border-bottom:1px solid rgba(144,207,79,.64);border-left:1px solid rgba(144,207,79,.30);"></div>
<div class="t" style="top:396px;font-size:11px;line-height:14px;color:#fff;left:26.3px;">Hungary</div>
<div class="t" style="top:397px;font-size:10.4px;line-height:13px;color:#1c1c1c;font-weight:400;left:-114.7px;width:300px;text-align:right;transform:scaleX(1.06);transform-origin:right center;-webkit-text-stroke:.3px #1c1c1c;">522</div>
<div class="t" style="top:397px;font-size:10.4px;line-height:13px;color:#1c1c1c;font-weight:400;left:-70.75px;width:300px;text-align:right;transform:scaleX(1.06);transform-origin:right center;-webkit-text-stroke:.3px #1c1c1c;">498</div>
<div class="t" style="top:397px;font-size:10.4px;line-height:13px;color:#1c1c1c;font-weight:400;left:-26.8px;width:300px;text-align:right;transform:scaleX(1.06);transform-origin:right center;-webkit-text-stroke:.3px #1c1c1c;">530</div>
<div class="t" style="top:397px;font-size:10.4px;line-height:13px;color:#1c1c1c;font-weight:400;left:17.15px;width:300px;text-align:right;transform:scaleX(1.06);transform-origin:right center;-webkit-text-stroke:.3px #1c1c1c;">782</div>
<div class="t" style="top:397px;font-size:10.4px;line-height:13px;color:#1c1c1c;font-weight:400;left:61.1px;width:300px;text-align:right;transform:scaleX(1.06);transform-origin:right center;-webkit-text-stroke:.3px #1c1c1c;">452</div>
<div class="t" style="top:397px;font-size:10.4px;line-height:13px;color:#1c1c1c;font-weight:400;left:105.05px;width:300px;text-align:right;transform:scaleX(1.06);transform-origin:right center;-webkit-text-stroke:.3px #1c1c1c;">350</div>
<div class="t" style="top:397px;font-size:10.4px;line-height:13px;color:#1c1c1c;font-weight:400;left:149px;width:300px;text-align:right;transform:scaleX(1.06);transform-origin:right center;-webkit-text-stroke:.3px #1c1c1c;">520</div>
<div class="t" style="top:397px;font-size:10.4px;line-height:13px;color:#1c1c1c;font-weight:400;left:192.95px;width:300px;text-align:right;transform:scaleX(1.06);transform-origin:right center;-webkit-text-stroke:.3px #1c1c1c;">280</div>
<div class="t" style="top:397px;font-size:10.4px;line-height:13px;color:#1c1c1c;font-weight:400;left:236.9px;width:300px;text-align:right;transform:scaleX(1.06);transform-origin:right center;-webkit-text-stroke:.3px #1c1c1c;">550</div>
<div class="t" style="top:397px;font-size:10.4px;line-height:13px;color:#1c1c1c;font-weight:400;left:280.85px;width:300px;text-align:right;transform:scaleX(1.06);transform-origin:right center;-webkit-text-stroke:.3px #1c1c1c;">330</div>
<div class="b" style="left:584px;top:393px;width:68px;height:19px;background:rgb(192,0,0);box-sizing:border-box;background-clip:padding-box;border-top:1px solid rgba(192,0,0,.66);border-left:1px solid rgba(192,0,0,.70);"></div>
<svg style="left:583.9px;top:396.44px" width="12" height="14" viewBox="0 0 12 14" aria-hidden="true"><path d="M6 2.4V12.2M2.5 6 6 2.4 9.5 6" fill="none" stroke="#e8603a" stroke-width="1.5" stroke-linecap="round" stroke-linejoin="round" transform="rotate(180 6 7)"/></svg>
<div class="t" style="top:396px;font-size:9.5px;line-height:13px;color:#fff;left:332px;width:300px;text-align:right;">-40,0%</div>
<div class="b" style="left:654px;top:393px;width:69px;height:19px;background:rgb(192,0,0);box-sizing:border-box;background-clip:padding-box;border-top:1px solid rgba(192,0,0,.66);border-right:1px solid rgba(192,0,0,.60);border-left:1px solid rgba(192,0,0,.80);"></div>
<svg style="left:653.8px;top:396.44px" width="12" height="14" viewBox="0 0 12 14" aria-hidden="true"><path d="M6 2.4V12.2M2.5 6 6 2.4 9.5 6" fill="none" stroke="#e8603a" stroke-width="1.5" stroke-linecap="round" stroke-linejoin="round" transform="rotate(180 6 7)"/></svg>
<div class="t" style="top:396px;font-size:9.5px;line-height:13px;color:#fff;left:401.6px;width:300px;text-align:right;">-26,7%</div>
<div class="b" style="left:5px;top:413px;width:138px;height:20px;background:#90cf4f;box-sizing:border-box;background-clip:padding-box;border-top:1px solid rgba(144,207,79,.33);border-right:1px solid rgba(144,207,79,.60);border-bottom:1px solid rgba(144,207,79,.27);border-left:1px solid rgba(144,207,79,.30);"></div>
<div class="t" style="top:416px;font-size:11px;line-height:14px;color:#fff;left:26.3px;">Italy</div>
<div class="t" style="top:417px;font-size:10.4px;line-height:13px;color:#1c1c1c;font-weight:400;left:-114.7px;width:300px;text-align:right;transform:scaleX(1.06);transform-origin:right center;-webkit-text-stroke:.3px #1c1c1c;">2.280</div>
<div class="t" style="top:417px;font-size:10.4px;line-height:13px;color:#1c1c1c;font-weight:400;left:-70.75px;width:300px;text-align:right;transform:scaleX(1.06);transform-origin:right center;-webkit-text-stroke:.3px #1c1c1c;">2.272</div>
<div class="t" style="top:417px;font-size:10.4px;line-height:13px;color:#1c1c1c;font-weight:400;left:-26.8px;width:300px;text-align:right;transform:scaleX(1.06);transform-origin:right center;-webkit-text-stroke:.3px #1c1c1c;">1.704</div>
<div class="t" style="top:417px;font-size:10.4px;line-height:13px;color:#1c1c1c;font-weight:400;left:17.15px;width:300px;text-align:right;transform:scaleX(1.06);transform-origin:right center;-webkit-text-stroke:.3px #1c1c1c;">2.264</div>
<div class="t" style="top:417px;font-size:10.4px;line-height:13px;color:#1c1c1c;font-weight:400;left:61.1px;width:300px;text-align:right;transform:scaleX(1.06);transform-origin:right center;-webkit-text-stroke:.3px #1c1c1c;">2.096</div>
<div class="t" style="top:417px;font-size:10.4px;line-height:13px;color:#1c1c1c;font-weight:400;left:105.05px;width:300px;text-align:right;transform:scaleX(1.06);transform-origin:right center;-webkit-text-stroke:.3px #1c1c1c;">2.124</div>
<div class="t" style="top:417px;font-size:10.4px;line-height:13px;color:#1c1c1c;font-weight:400;left:149px;width:300px;text-align:right;transform:scaleX(1.06);transform-origin:right center;-webkit-text-stroke:.3px #1c1c1c;">2.053</div>
<div class="t" style="top:417px;font-size:10.4px;line-height:13px;color:#1c1c1c;font-weight:400;left:192.95px;width:300px;text-align:right;transform:scaleX(1.06);transform-origin:right center;-webkit-text-stroke:.3px #1c1c1c;">2.113</div>
<div class="t" style="top:417px;font-size:10.4px;line-height:13px;color:#1c1c1c;font-weight:400;left:236.9px;width:300px;text-align:right;transform:scaleX(1.06);transform-origin:right center;-webkit-text-stroke:.3px #1c1c1c;">2.175</div>
<div class="t" style="top:417px;font-size:10.4px;line-height:13px;color:#1c1c1c;font-weight:400;left:280.85px;width:300px;text-align:right;transform:scaleX(1.06);transform-origin:right center;-webkit-text-stroke:.3px #1c1c1c;">2.162</div>
<div class="b" style="left:584px;top:414px;width:68px;height:19px;background:rgb(253,247,247);box-sizing:border-box;background-clip:padding-box;border-bottom:1px solid rgba(253,247,247,.67);border-left:1px solid rgba(253,247,247,.70);"></div>
<svg style="left:583.9px;top:417.07px" width="12" height="14" viewBox="0 0 12 14" aria-hidden="true"><path d="M6 1 11.1 6.4 10 7.8 7.9 6.5V13H4.1V6.5L2 7.8 .9 6.4Z" fill="#bd533c" stroke="#bd533c" stroke-width=".8" stroke-linejoin="round" transform="rotate(180 6 7)"/></svg>
<div class="t" style="top:417px;font-size:9.5px;line-height:13px;color:#2a2a2a;left:332px;width:300px;text-align:right;">-0,6%</div>
<div class="b" style="left:654px;top:414px;width:69px;height:19px;background:rgb(227,243,234);box-sizing:border-box;background-clip:padding-box;border-right:1px solid rgba(227,243,234,.60);border-bottom:1px solid rgba(227,243,234,.67);border-left:1px solid rgba(227,243,234,.80);"></div>
<svg style="left:653.8px;top:417.07px" width="12" height="14" viewBox="0 0 12 14" aria-hidden="true"><path d="M6 1 11.1 6.4 10 7.8 7.9 6.5V13H4.1V6.5L2 7.8 .9 6.4Z" fill="#4b9075" stroke="#4b9075" stroke-width=".8" stroke-linejoin="round"/></svg>
<div class="t" style="top:417px;font-size:9.5px;line-height:13px;color:#2a2a2a;left:401.6px;width:300px;text-align:right;">2,3%</div>
<div class="b" style="left:5px;top:434px;width:138px;height:19px;background:#90cf4f;box-sizing:border-box;background-clip:padding-box;border-top:1px solid rgba(144,207,79,.70);border-right:1px solid rgba(144,207,79,.60);border-left:1px solid rgba(144,207,79,.30);"></div>
<div class="t" style="top:437px;font-size:11px;line-height:14px;color:#fff;left:26.3px;">Latvia</div>
<div class="t" style="top:438px;font-size:10.4px;line-height:13px;color:#1c1c1c;font-weight:400;left:-114.7px;width:300px;text-align:right;transform:scaleX(1.06);transform-origin:right center;-webkit-text-stroke:.3px #1c1c1c;">8</div>
<div class="t" style="top:438px;font-size:10.4px;line-height:13px;color:#1c1c1c;font-weight:400;left:-70.75px;width:300px;text-align:right;transform:scaleX(1.06);transform-origin:right center;-webkit-text-stroke:.3px #1c1c1c;">10</div>
<div class="t" style="top:438px;font-size:10.4px;line-height:13px;color:#1c1c1c;font-weight:400;left:-26.8px;width:300px;text-align:right;transform:scaleX(1.06);transform-origin:right center;-webkit-text-stroke:.3px #1c1c1c;">8</div>
<div class="t" style="top:438px;font-size:10.4px;line-height:13px;color:#1c1c1c;font-weight:400;left:17.15px;width:300px;text-align:right;transform:scaleX(1.06);transform-origin:right center;-webkit-text-stroke:.3px #1c1c1c;">14</div>
<div class="t" style="top:438px;font-size:10.4px;line-height:13px;color:#1c1c1c;font-weight:400;left:61.1px;width:300px;text-align:right;transform:scaleX(1.06);transform-origin:right center;-webkit-text-stroke:.3px #1c1c1c;">10</div>
<div class="t" style="top:438px;font-size:10.4px;line-height:13px;color:#1c1c1c;font-weight:400;left:105.05px;width:300px;text-align:right;transform:scaleX(1.06);transform-origin:right center;-webkit-text-stroke:.3px #1c1c1c;">14</div>
<div class="t" style="top:438px;font-size:10.4px;line-height:13px;color:#1c1c1c;font-weight:400;left:149px;width:300px;text-align:right;transform:scaleX(1.06);transform-origin:right center;-webkit-text-stroke:.3px #1c1c1c;">8</div>
<div class="t" style="top:438px;font-size:10.4px;line-height:13px;color:#1c1c1c;font-weight:400;left:192.95px;width:300px;text-align:right;transform:scaleX(1.06);transform-origin:right center;-webkit-text-stroke:.3px #1c1c1c;">10</div>
<div class="t" style="top:438px;font-size:10.4px;line-height:13px;color:#1c1c1c;font-weight:400;left:236.9px;width:300px;text-align:right;transform:scaleX(1.06);transform-origin:right center;-webkit-text-stroke:.3px #1c1c1c;">8</div>
<div class="t" style="top:438px;font-size:10.4px;line-height:13px;color:#1c1c1c;font-weight:400;left:280.85px;width:300px;text-align:right;transform:scaleX(1.06);transform-origin:right center;-webkit-text-stroke:.3px #1c1c1c;">7</div>
<div class="b" style="left:584px;top:434px;width:68px;height:20px;background:rgb(226,139,139);box-sizing:border-box;background-clip:padding-box;border-top:1px solid rgba(226,139,139,.40);border-bottom:1px solid rgba(226,139,139,.30);border-left:1px solid rgba(226,139,139,.70);"></div>
<svg style="left:583.9px;top:437.7px" width="12" height="14" viewBox="0 0 12 14" aria-hidden="true"><path d="M6 1 11.1 6.4 10 7.8 7.9 6.5V13H4.1V6.5L2 7.8 .9 6.4Z" fill="#bd533c" stroke="#bd533c" stroke-width=".8" stroke-linejoin="round" transform="rotate(180 6 7)"/></svg>
<div class="t" style="top:437px;font-size:9.5px;line-height:13px;color:#fff;left:332px;width:300px;text-align:right;">-9,1%</div>
<div class="b" style="left:654px;top:434px;width:69px;height:20px;background:rgb(195,10,10);box-sizing:border-box;background-clip:padding-box;border-top:1px solid rgba(195,10,10,.40);border-right:1px solid rgba(195,10,10,.60);border-bottom:1px solid rgba(195,10,10,.30);border-left:1px solid rgba(195,10,10,.80);"></div>
<svg style="left:653.8px;top:437.7px" width="12" height="14" viewBox="0 0 12 14" aria-hidden="true"><path d="M6 2.4V12.2M2.5 6 6 2.4 9.5 6" fill="none" stroke="#e8603a" stroke-width="1.5" stroke-linecap="round" stroke-linejoin="round" transform="rotate(180 6 7)"/></svg>
<div class="t" style="top:437px;font-size:9.5px;line-height:13px;color:#fff;left:401.6px;width:300px;text-align:right;">-19,2%</div>
<div class="b" style="left:5px;top:455px;width:138px;height:19px;background:#90cf4f;box-sizing:border-box;background-clip:padding-box;border-right:1px solid rgba(144,207,79,.60);border-bottom:1px solid rgba(144,207,79,.53);border-left:1px solid rgba(144,207,79,.30);"></div>
<div class="t" style="top:458px;font-size:11px;line-height:14px;color:#fff;left:26.3px;">Lithuania</div>
<div class="t" style="top:459px;font-size:10.4px;line-height:13px;color:#1c1c1c;font-weight:400;left:-114.7px;width:300px;text-align:right;transform:scaleX(1.06);transform-origin:right center;-webkit-text-stroke:.3px #1c1c1c;">46</div>
<div class="t" style="top:459px;font-size:10.4px;line-height:13px;color:#1c1c1c;font-weight:400;left:-70.75px;width:300px;text-align:right;transform:scaleX(1.06);transform-origin:right center;-webkit-text-stroke:.3px #1c1c1c;">50</div>
<div class="t" style="top:459px;font-size:10.4px;line-height:13px;color:#1c1c1c;font-weight:400;left:-26.8px;width:300px;text-align:right;transform:scaleX(1.06);transform-origin:right center;-webkit-text-stroke:.3px #1c1c1c;">48</div>
<div class="t" style="top:459px;font-size:10.4px;line-height:13px;color:#1c1c1c;font-weight:400;left:17.15px;width:300px;text-align:right;transform:scaleX(1.06);transform-origin:right center;-webkit-text-stroke:.3px #1c1c1c;">62</div>
<div class="t" style="top:459px;font-size:10.4px;line-height:13px;color:#1c1c1c;font-weight:400;left:61.1px;width:300px;text-align:right;transform:scaleX(1.06);transform-origin:right center;-webkit-text-stroke:.3px #1c1c1c;">26</div>
<div class="t" style="top:459px;font-size:10.4px;line-height:13px;color:#1c1c1c;font-weight:400;left:105.05px;width:300px;text-align:right;transform:scaleX(1.06);transform-origin:right center;-webkit-text-stroke:.3px #1c1c1c;">52</div>
<div class="t" style="top:459px;font-size:10.4px;line-height:13px;color:#1c1c1c;font-weight:400;left:149px;width:300px;text-align:right;transform:scaleX(1.06);transform-origin:right center;-webkit-text-stroke:.3px #1c1c1c;">36</div>
<div class="t" style="top:459px;font-size:10.4px;line-height:13px;color:#1c1c1c;font-weight:400;left:192.95px;width:300px;text-align:right;transform:scaleX(1.06);transform-origin:right center;-webkit-text-stroke:.3px #1c1c1c;">51</div>
<div class="t" style="top:459px;font-size:10.4px;line-height:13px;color:#1c1c1c;font-weight:400;left:236.9px;width:300px;text-align:right;transform:scaleX(1.06);transform-origin:right center;-webkit-text-stroke:.3px #1c1c1c;">27</div>
<div class="t" style="top:459px;font-size:10.4px;line-height:13px;color:#1c1c1c;font-weight:400;left:280.85px;width:300px;text-align:right;transform:scaleX(1.06);transform-origin:right center;-webkit-text-stroke:.3px #1c1c1c;">35</div>
<div class="b" style="left:584px;top:455px;width:68px;height:19px;background:rgb(10,148,70);box-sizing:border-box;background-clip:padding-box;border-top:1px solid rgba(10,148,70,.77);border-left:1px solid rgba(10,148,70,.70);"></div>
<svg style="left:583.9px;top:458.33px" width="12" height="14" viewBox="0 0 12 14" aria-hidden="true"><path d="M6 2.4V12.2M2.5 6 6 2.4 9.5 6" fill="none" stroke="#5fae8a" stroke-width="1.5" stroke-linecap="round" stroke-linejoin="round"/></svg>
<div class="t" style="top:458px;font-size:9.5px;line-height:13px;color:#fff;left:332px;width:300px;text-align:right;">29,6%</div>
<div class="b" style="left:654px;top:455px;width:69px;height:19px;background:rgb(230,154,154);box-sizing:border-box;background-clip:padding-box;border-top:1px solid rgba(230,154,154,.77);border-right:1px solid rgba(230,154,154,.60);border-left:1px solid rgba(230,154,154,.80);"></div>
<svg style="left:653.8px;top:458.33px" width="12" height="14" viewBox="0 0 12 14" aria-hidden="true"><path d="M6 1 11.1 6.4 10 7.8 7.9 6.5V13H4.1V6.5L2 7.8 .9 6.4Z" fill="#bd533c" stroke="#bd533c" stroke-width=".8" stroke-linejoin="round" transform="rotate(180 6 7)"/></svg>
<div class="t" style="top:458px;font-size:9.5px;line-height:13px;color:#fff;left:401.6px;width:300px;text-align:right;">-7,9%</div>
<div class="b" style="left:5px;top:475px;width:138px;height:20px;background:#90cf4f;box-sizing:border-box;background-clip:padding-box;border-top:1px solid rgba(144,207,79,.44);border-right:1px solid rgba(144,207,79,.60);border-bottom:1px solid rgba(144,207,79,.16);border-left:1px solid rgba(144,207,79,.30);"></div>
<div class="t" style="top:478px;font-size:11px;line-height:14px;color:#fff;left:26.3px;">Netherlands</div>
<div class="t" style="top:479px;font-size:10.4px;line-height:13px;color:#1c1c1c;font-weight:400;left:-114.7px;width:300px;text-align:right;transform:scaleX(1.06);transform-origin:right center;-webkit-text-stroke:.3px #1c1c1c;">336</div>
<div class="t" style="top:479px;font-size:10.4px;line-height:13px;color:#1c1c1c;font-weight:400;left:-70.75px;width:300px;text-align:right;transform:scaleX(1.06);transform-origin:right center;-webkit-text-stroke:.3px #1c1c1c;">317</div>
<div class="t" style="top:479px;font-size:10.4px;line-height:13px;color:#1c1c1c;font-weight:400;left:-26.8px;width:300px;text-align:right;transform:scaleX(1.06);transform-origin:right center;-webkit-text-stroke:.3px #1c1c1c;">228</div>
<div class="t" style="top:479px;font-size:10.4px;line-height:13px;color:#1c1c1c;font-weight:400;left:17.15px;width:300px;text-align:right;transform:scaleX(1.06);transform-origin:right center;-webkit-text-stroke:.3px #1c1c1c;">267</div>
<div class="t" style="top:479px;font-size:10.4px;line-height:13px;color:#1c1c1c;font-weight:400;left:61.1px;width:300px;text-align:right;transform:scaleX(1.06);transform-origin:right center;-webkit-text-stroke:.3px #1c1c1c;">272</div>
<div class="t" style="top:479px;font-size:10.4px;line-height:13px;color:#1c1c1c;font-weight:400;left:105.05px;width:300px;text-align:right;transform:scaleX(1.06);transform-origin:right center;-webkit-text-stroke:.3px #1c1c1c;">220</div>
<div class="t" style="top:479px;font-size:10.4px;line-height:13px;color:#1c1c1c;font-weight:400;left:149px;width:300px;text-align:right;transform:scaleX(1.06);transform-origin:right center;-webkit-text-stroke:.3px #1c1c1c;">243</div>
<div class="t" style="top:479px;font-size:10.4px;line-height:13px;color:#1c1c1c;font-weight:400;left:192.95px;width:300px;text-align:right;transform:scaleX(1.06);transform-origin:right center;-webkit-text-stroke:.3px #1c1c1c;">235</div>
<div class="t" style="top:479px;font-size:10.4px;line-height:13px;color:#1c1c1c;font-weight:400;left:236.9px;width:300px;text-align:right;transform:scaleX(1.06);transform-origin:right center;-webkit-text-stroke:.3px #1c1c1c;">199</div>
<div class="t" style="top:479px;font-size:10.4px;line-height:13px;color:#1c1c1c;font-weight:400;left:280.85px;width:300px;text-align:right;transform:scaleX(1.06);transform-origin:right center;-webkit-text-stroke:.3px #1c1c1c;">197</div>
<div class="b" style="left:584px;top:475px;width:68px;height:20px;background:rgb(252,242,242);box-sizing:border-box;background-clip:padding-box;border-top:1px solid rgba(252,242,242,.14);border-bottom:1px solid rgba(252,242,242,.56);border-left:1px solid rgba(252,242,242,.70);"></div>
<svg style="left:583.9px;top:478.96px" width="12" height="14" viewBox="0 0 12 14" aria-hidden="true"><path d="M6 1 11.1 6.4 10 7.8 7.9 6.5V13H4.1V6.5L2 7.8 .9 6.4Z" fill="#bd533c" stroke="#bd533c" stroke-width=".8" stroke-linejoin="round" transform="rotate(180 6 7)"/></svg>
<div class="t" style="top:479px;font-size:9.5px;line-height:13px;color:#2a2a2a;left:332px;width:300px;text-align:right;">-1,0%</div>
<div class="b" style="left:654px;top:475px;width:69px;height:20px;background:rgb(215,94,94);box-sizing:border-box;background-clip:padding-box;border-top:1px solid rgba(215,94,94,.14);border-right:1px solid rgba(215,94,94,.60);border-bottom:1px solid rgba(215,94,94,.56);border-left:1px solid rgba(215,94,94,.80);"></div>
<svg style="left:653.8px;top:478.96px" width="12" height="14" viewBox="0 0 12 14" aria-hidden="true"><path d="M6 1 11.1 6.4 10 7.8 7.9 6.5V13H4.1V6.5L2 7.8 .9 6.4Z" fill="#bd533c" stroke="#bd533c" stroke-width=".8" stroke-linejoin="round" transform="rotate(180 6 7)"/></svg>
<div class="t" style="top:479px;font-size:9.5px;line-height:13px;color:#fff;left:401.6px;width:300px;text-align:right;">-12,6%</div>
<div class="b" style="left:5px;top:496px;width:138px;height:19px;background:#90cf4f;box-sizing:border-box;background-clip:padding-box;border-top:1px solid rgba(144,207,79,.81);border-right:1px solid rgba(144,207,79,.60);border-bottom:1px solid rgba(144,207,79,.79);border-left:1px solid rgba(144,207,79,.30);"></div>
<div class="t" style="top:499px;font-size:11px;line-height:14px;color:#fff;left:26.3px;">Poland</div>
<div class="t" style="top:500px;font-size:10.4px;line-height:13px;color:#1c1c1c;font-weight:400;left:-114.7px;width:300px;text-align:right;transform:scaleX(1.06);transform-origin:right center;-webkit-text-stroke:.3px #1c1c1c;">3.979</div>
<div class="t" style="top:500px;font-size:10.4px;line-height:13px;color:#1c1c1c;font-weight:400;left:-70.75px;width:300px;text-align:right;transform:scaleX(1.06);transform-origin:right center;-webkit-text-stroke:.3px #1c1c1c;">4.035</div>
<div class="t" style="top:500px;font-size:10.4px;line-height:13px;color:#1c1c1c;font-weight:400;left:-26.8px;width:300px;text-align:right;transform:scaleX(1.06);transform-origin:right center;-webkit-text-stroke:.3px #1c1c1c;">2.870</div>
<div class="t" style="top:500px;font-size:10.4px;line-height:13px;color:#1c1c1c;font-weight:400;left:17.15px;width:300px;text-align:right;transform:scaleX(1.06);transform-origin:right center;-webkit-text-stroke:.3px #1c1c1c;">4.810</div>
<div class="t" style="top:500px;font-size:10.4px;line-height:13px;color:#1c1c1c;font-weight:400;left:61.1px;width:300px;text-align:right;transform:scaleX(1.06);transform-origin:right center;-webkit-text-stroke:.3px #1c1c1c;">2.910</div>
<div class="t" style="top:500px;font-size:10.4px;line-height:13px;color:#1c1c1c;font-weight:400;left:105.05px;width:300px;text-align:right;transform:scaleX(1.06);transform-origin:right center;-webkit-text-stroke:.3px #1c1c1c;">3.410</div>
<div class="t" style="top:500px;font-size:10.4px;line-height:13px;color:#1c1c1c;font-weight:400;left:149px;width:300px;text-align:right;transform:scaleX(1.06);transform-origin:right center;-webkit-text-stroke:.3px #1c1c1c;">4.300</div>
<div class="t" style="top:500px;font-size:10.4px;line-height:13px;color:#1c1c1c;font-weight:400;left:192.95px;width:300px;text-align:right;transform:scaleX(1.06);transform-origin:right center;-webkit-text-stroke:.3px #1c1c1c;">4.495</div>
<div class="t" style="top:500px;font-size:10.4px;line-height:13px;color:#1c1c1c;font-weight:400;left:236.9px;width:300px;text-align:right;transform:scaleX(1.06);transform-origin:right center;-webkit-text-stroke:.3px #1c1c1c;">3.970</div>
<div class="t" style="top:500px;font-size:10.4px;line-height:13px;color:#1c1c1c;font-weight:400;left:280.85px;width:300px;text-align:right;transform:scaleX(1.06);transform-origin:right center;-webkit-text-stroke:.3px #1c1c1c;">3.190</div>
<div class="b" style="left:584px;top:496px;width:68px;height:20px;background:rgb(193,5,5);box-sizing:border-box;background-clip:padding-box;border-top:1px solid rgba(193,5,5,.51);border-bottom:1px solid rgba(193,5,5,.19);border-left:1px solid rgba(193,5,5,.70);"></div>
<svg style="left:583.9px;top:499.59px" width="12" height="14" viewBox="0 0 12 14" aria-hidden="true"><path d="M6 2.4V12.2M2.5 6 6 2.4 9.5 6" fill="none" stroke="#e8603a" stroke-width="1.5" stroke-linecap="round" stroke-linejoin="round" transform="rotate(180 6 7)"/></svg>
<div class="t" style="top:499px;font-size:9.5px;line-height:13px;color:#fff;left:332px;width:300px;text-align:right;">-19,6%</div>
<div class="b" style="left:654px;top:496px;width:69px;height:20px;background:rgb(192,0,0);box-sizing:border-box;background-clip:padding-box;border-top:1px solid rgba(192,0,0,.51);border-right:1px solid rgba(192,0,0,.60);border-bottom:1px solid rgba(192,0,0,.19);border-left:1px solid rgba(192,0,0,.80);"></div>
<svg style="left:653.8px;top:499.59px" width="12" height="14" viewBox="0 0 12 14" aria-hidden="true"><path d="M6 2.4V12.2M2.5 6 6 2.4 9.5 6" fill="none" stroke="#e8603a" stroke-width="1.5" stroke-linecap="round" stroke-linejoin="round" transform="rotate(180 6 7)"/></svg>
<div class="t" style="top:499px;font-size:9.5px;line-height:13px;color:#fff;left:401.6px;width:300px;text-align:right;">-25,0%</div>
<div class="b" style="left:5px;top:516px;width:138px;height:20px;background:#90cf4f;box-sizing:border-box;background-clip:padding-box;border-top:1px solid rgba(144,207,79,.18);border-right:1px solid rgba(144,207,79,.60);border-bottom:1px solid rgba(144,207,79,.42);border-left:1px solid rgba(144,207,79,.30);"></div>
<div class="t" style="top:520px;font-size:11px;line-height:14px;color:#fff;left:26.3px;">Portugal</div>
<div class="t" style="top:521px;font-size:10.4px;line-height:13px;color:#1c1c1c;font-weight:400;left:-114.7px;width:300px;text-align:right;transform:scaleX(1.06);transform-origin:right center;-webkit-text-stroke:.3px #1c1c1c;">329</div>
<div class="t" style="top:521px;font-size:10.4px;line-height:13px;color:#1c1c1c;font-weight:400;left:-70.75px;width:300px;text-align:right;transform:scaleX(1.06);transform-origin:right center;-webkit-text-stroke:.3px #1c1c1c;">263</div>
<div class="t" style="top:521px;font-size:10.4px;line-height:13px;color:#1c1c1c;font-weight:400;left:-26.8px;width:300px;text-align:right;transform:scaleX(1.06);transform-origin:right center;-webkit-text-stroke:.3px #1c1c1c;">314</div>
<div class="t" style="top:521px;font-size:10.4px;line-height:13px;color:#1c1c1c;font-weight:400;left:17.15px;width:300px;text-align:right;transform:scaleX(1.06);transform-origin:right center;-webkit-text-stroke:.3px #1c1c1c;">267</div>
<div class="t" style="top:521px;font-size:10.4px;line-height:13px;color:#1c1c1c;font-weight:400;left:61.1px;width:300px;text-align:right;transform:scaleX(1.06);transform-origin:right center;-webkit-text-stroke:.3px #1c1c1c;">354</div>
<div class="t" style="top:521px;font-size:10.4px;line-height:13px;color:#1c1c1c;font-weight:400;left:105.05px;width:300px;text-align:right;transform:scaleX(1.06);transform-origin:right center;-webkit-text-stroke:.3px #1c1c1c;">278</div>
<div class="t" style="top:521px;font-size:10.4px;line-height:13px;color:#1c1c1c;font-weight:400;left:149px;width:300px;text-align:right;transform:scaleX(1.06);transform-origin:right center;-webkit-text-stroke:.3px #1c1c1c;">368</div>
<div class="t" style="top:521px;font-size:10.4px;line-height:13px;color:#1c1c1c;font-weight:400;left:192.95px;width:300px;text-align:right;transform:scaleX(1.06);transform-origin:right center;-webkit-text-stroke:.3px #1c1c1c;">291</div>
<div class="t" style="top:521px;font-size:10.4px;line-height:13px;color:#1c1c1c;font-weight:400;left:236.9px;width:300px;text-align:right;transform:scaleX(1.06);transform-origin:right center;-webkit-text-stroke:.3px #1c1c1c;">295</div>
<div class="t" style="top:521px;font-size:10.4px;line-height:13px;color:#1c1c1c;font-weight:400;left:280.85px;width:300px;text-align:right;transform:scaleX(1.06);transform-origin:right center;-webkit-text-stroke:.3px #1c1c1c;">300</div>
<div class="b" style="left:584px;top:517px;width:68px;height:19px;background:rgb(232,245,237);box-sizing:border-box;background-clip:padding-box;border-bottom:1px solid rgba(232,245,237,.82);border-left:1px solid rgba(232,245,237,.70);"></div>
<svg style="left:583.9px;top:520.22px" width="12" height="14" viewBox="0 0 12 14" aria-hidden="true"><path d="M6 1 11.1 6.4 10 7.8 7.9 6.5V13H4.1V6.5L2 7.8 .9 6.4Z" fill="#4b9075" stroke="#4b9075" stroke-width=".8" stroke-linejoin="round"/></svg>
<div class="t" style="top:520px;font-size:9.5px;line-height:13px;color:#2a2a2a;left:332px;width:300px;text-align:right;">1,9%</div>
<div class="b" style="left:654px;top:517px;width:69px;height:19px;background:rgb(237,184,184);box-sizing:border-box;background-clip:padding-box;border-right:1px solid rgba(237,184,184,.60);border-bottom:1px solid rgba(237,184,184,.82);border-left:1px solid rgba(237,184,184,.80);"></div>
<svg style="left:653.8px;top:520.22px" width="12" height="14" viewBox="0 0 12 14" aria-hidden="true"><path d="M6 1 11.1 6.4 10 7.8 7.9 6.5V13H4.1V6.5L2 7.8 .9 6.4Z" fill="#bd533c" stroke="#bd533c" stroke-width=".8" stroke-linejoin="round" transform="rotate(180 6 7)"/></svg>
<div class="t" style="top:520px;font-size:9.5px;line-height:13px;color:#2a2a2a;left:401.6px;width:300px;text-align:right;">-5,6%</div>
<div class="b" style="left:5px;top:537px;width:138px;height:19px;background:#90cf4f;box-sizing:border-box;background-clip:padding-box;border-top:1px solid rgba(144,207,79,.55);border-right:1px solid rgba(144,207,79,.60);border-left:1px solid rgba(144,207,79,.30);"></div>
<div class="t" style="top:540px;font-size:11px;line-height:14px;color:#fff;left:26.3px;">Romania</div>
<div class="t" style="top:541px;font-size:10.4px;line-height:13px;color:#1c1c1c;font-weight:400;left:-114.7px;width:300px;text-align:right;transform:scaleX(1.06);transform-origin:right center;-webkit-text-stroke:.3px #1c1c1c;">465</div>
<div class="t" style="top:541px;font-size:10.4px;line-height:13px;color:#1c1c1c;font-weight:400;left:-70.75px;width:300px;text-align:right;transform:scaleX(1.06);transform-origin:right center;-webkit-text-stroke:.3px #1c1c1c;">457</div>
<div class="t" style="top:541px;font-size:10.4px;line-height:13px;color:#1c1c1c;font-weight:400;left:-26.8px;width:300px;text-align:right;transform:scaleX(1.06);transform-origin:right center;-webkit-text-stroke:.3px #1c1c1c;">340</div>
<div class="t" style="top:541px;font-size:10.4px;line-height:13px;color:#1c1c1c;font-weight:400;left:17.15px;width:300px;text-align:right;transform:scaleX(1.06);transform-origin:right center;-webkit-text-stroke:.3px #1c1c1c;">635</div>
<div class="t" style="top:541px;font-size:10.4px;line-height:13px;color:#1c1c1c;font-weight:400;left:61.1px;width:300px;text-align:right;transform:scaleX(1.06);transform-origin:right center;-webkit-text-stroke:.3px #1c1c1c;">493</div>
<div class="t" style="top:541px;font-size:10.4px;line-height:13px;color:#1c1c1c;font-weight:400;left:105.05px;width:300px;text-align:right;transform:scaleX(1.06);transform-origin:right center;-webkit-text-stroke:.3px #1c1c1c;">537</div>
<div class="t" style="top:541px;font-size:10.4px;line-height:13px;color:#1c1c1c;font-weight:400;left:149px;width:300px;text-align:right;transform:scaleX(1.06);transform-origin:right center;-webkit-text-stroke:.3px #1c1c1c;">594</div>
<div class="t" style="top:541px;font-size:10.4px;line-height:13px;color:#1c1c1c;font-weight:400;left:192.95px;width:300px;text-align:right;transform:scaleX(1.06);transform-origin:right center;-webkit-text-stroke:.3px #1c1c1c;">543</div>
<div class="t" style="top:541px;font-size:10.4px;line-height:13px;color:#1c1c1c;font-weight:400;left:236.9px;width:300px;text-align:right;transform:scaleX(1.06);transform-origin:right center;-webkit-text-stroke:.3px #1c1c1c;">531</div>
<div class="t" style="top:541px;font-size:10.4px;line-height:13px;color:#1c1c1c;font-weight:400;left:280.85px;width:300px;text-align:right;transform:scaleX(1.06);transform-origin:right center;-webkit-text-stroke:.3px #1c1c1c;">451</div>
<div class="b" style="left:584px;top:537px;width:68px;height:20px;background:rgb(208,64,64);box-sizing:border-box;background-clip:padding-box;border-top:1px solid rgba(208,64,64,.25);border-bottom:1px solid rgba(208,64,64,.45);border-left:1px solid rgba(208,64,64,.70);"></div>
<svg style="left:583.9px;top:540.85px" width="12" height="14" viewBox="0 0 12 14" aria-hidden="true"><path d="M6 2.4V12.2M2.5 6 6 2.4 9.5 6" fill="none" stroke="#e8603a" stroke-width="1.5" stroke-linecap="round" stroke-linejoin="round" transform="rotate(180 6 7)"/></svg>
<div class="t" style="top:541px;font-size:9.5px;line-height:13px;color:#fff;left:332px;width:300px;text-align:right;">-15,0%</div>
<div class="b" style="left:654px;top:537px;width:69px;height:20px;background:rgb(196,15,15);box-sizing:border-box;background-clip:padding-box;border-top:1px solid rgba(196,15,15,.25);border-right:1px solid rgba(196,15,15,.60);border-bottom:1px solid rgba(196,15,15,.45);border-left:1px solid rgba(196,15,15,.80);"></div>
<svg style="left:653.8px;top:540.85px" width="12" height="14" viewBox="0 0 12 14" aria-hidden="true"><path d="M6 2.4V12.2M2.5 6 6 2.4 9.5 6" fill="none" stroke="#e8603a" stroke-width="1.5" stroke-linecap="round" stroke-linejoin="round" transform="rotate(180 6 7)"/></svg>
<div class="t" style="top:541px;font-size:9.5px;line-height:13px;color:#fff;left:401.6px;width:300px;text-align:right;">-18,8%</div>
<div class="b" style="left:5px;top:558px;width:138px;height:19px;background:#90cf4f;box-sizing:border-box;background-clip:padding-box;border-right:1px solid rgba(144,207,79,.60);border-bottom:1px solid rgba(144,207,79,.68);border-left:1px solid rgba(144,207,79,.30);"></div>
<div class="t" style="top:561px;font-size:11px;line-height:14px;color:#fff;left:26.3px;">Slovakia</div>
<div class="t" style="top:562px;font-size:10.4px;line-height:13px;color:#1c1c1c;font-weight:400;left:-114.7px;width:300px;text-align:right;transform:scaleX(1.06);transform-origin:right center;-webkit-text-stroke:.3px #1c1c1c;">40</div>
<div class="t" style="top:562px;font-size:10.4px;line-height:13px;color:#1c1c1c;font-weight:400;left:-70.75px;width:300px;text-align:right;transform:scaleX(1.06);transform-origin:right center;-webkit-text-stroke:.3px #1c1c1c;">17</div>
<div class="t" style="top:562px;font-size:10.4px;line-height:13px;color:#1c1c1c;font-weight:400;left:-26.8px;width:300px;text-align:right;transform:scaleX(1.06);transform-origin:right center;-webkit-text-stroke:.3px #1c1c1c;">15</div>
<div class="t" style="top:562px;font-size:10.4px;line-height:13px;color:#1c1c1c;font-weight:400;left:17.15px;width:300px;text-align:right;transform:scaleX(1.06);transform-origin:right center;-webkit-text-stroke:.3px #1c1c1c;">44</div>
<div class="t" style="top:562px;font-size:10.4px;line-height:13px;color:#1c1c1c;font-weight:400;left:61.1px;width:300px;text-align:right;transform:scaleX(1.06);transform-origin:right center;-webkit-text-stroke:.3px #1c1c1c;">35</div>
<div class="t" style="top:562px;font-size:10.4px;line-height:13px;color:#1c1c1c;font-weight:400;left:105.05px;width:300px;text-align:right;transform:scaleX(1.06);transform-origin:right center;-webkit-text-stroke:.3px #1c1c1c;">30</div>
<div class="t" style="top:562px;font-size:10.4px;line-height:13px;color:#1c1c1c;font-weight:400;left:149px;width:300px;text-align:right;transform:scaleX(1.06);transform-origin:right center;-webkit-text-stroke:.3px #1c1c1c;">31</div>
<div class="t" style="top:562px;font-size:10.4px;line-height:13px;color:#1c1c1c;font-weight:400;left:192.95px;width:300px;text-align:right;transform:scaleX(1.06);transform-origin:right center;-webkit-text-stroke:.3px #1c1c1c;">32</div>
<div class="t" style="top:562px;font-size:10.4px;line-height:13px;color:#1c1c1c;font-weight:400;left:236.9px;width:300px;text-align:right;transform:scaleX(1.06);transform-origin:right center;-webkit-text-stroke:.3px #1c1c1c;">27</div>
<div class="t" style="top:562px;font-size:10.4px;line-height:13px;color:#1c1c1c;font-weight:400;left:280.85px;width:300px;text-align:right;transform:scaleX(1.06);transform-origin:right center;-webkit-text-stroke:.3px #1c1c1c;">36</div>
<div class="b" style="left:584px;top:558px;width:68px;height:19px;background:rgb(10,148,70);box-sizing:border-box;background-clip:padding-box;border-top:1px solid rgba(10,148,70,.62);border-left:1px solid rgba(10,148,70,.70);"></div>
<svg style="left:583.9px;top:561.48px" width="12" height="14" viewBox="0 0 12 14" aria-hidden="true"><path d="M6 2.4V12.2M2.5 6 6 2.4 9.5 6" fill="none" stroke="#5fae8a" stroke-width="1.5" stroke-linecap="round" stroke-linejoin="round"/></svg>
<div class="t" style="top:561px;font-size:9.5px;line-height:13px;color:#fff;left:332px;width:300px;text-align:right;">32,6%</div>
<div class="b" style="left:654px;top:558px;width:69px;height:19px;background:rgb(23,154,80);box-sizing:border-box;background-clip:padding-box;border-top:1px solid rgba(23,154,80,.62);border-right:1px solid rgba(23,154,80,.60);border-left:1px solid rgba(23,154,80,.80);"></div>
<svg style="left:653.8px;top:561.48px" width="12" height="14" viewBox="0 0 12 14" aria-hidden="true"><path d="M6 2.4V12.2M2.5 6 6 2.4 9.5 6" fill="none" stroke="#5fae8a" stroke-width="1.5" stroke-linecap="round" stroke-linejoin="round"/></svg>
<div class="t" style="top:561px;font-size:9.5px;line-height:13px;color:#fff;left:401.6px;width:300px;text-align:right;">18,9%</div>
<div class="b" style="left:5px;top:578px;width:138px;height:20px;background:#90cf4f;box-sizing:border-box;background-clip:padding-box;border-top:1px solid rgba(144,207,79,.29);border-right:1px solid rgba(144,207,79,.60);border-bottom:1px solid rgba(144,207,79,.31);border-left:1px solid rgba(144,207,79,.30);"></div>
<div class="t" style="top:581px;font-size:11px;line-height:14px;color:#fff;left:26.3px;">Slovenia</div>
<div class="t" style="top:582px;font-size:10.4px;line-height:13px;color:#1c1c1c;font-weight:400;left:-114.7px;width:300px;text-align:right;transform:scaleX(1.06);transform-origin:right center;-webkit-text-stroke:.3px #1c1c1c;">71</div>
<div class="t" style="top:582px;font-size:10.4px;line-height:13px;color:#1c1c1c;font-weight:400;left:-70.75px;width:300px;text-align:right;transform:scaleX(1.06);transform-origin:right center;-webkit-text-stroke:.3px #1c1c1c;">12</div>
<div class="t" style="top:582px;font-size:10.4px;line-height:13px;color:#1c1c1c;font-weight:400;left:-26.8px;width:300px;text-align:right;transform:scaleX(1.06);transform-origin:right center;-webkit-text-stroke:.3px #1c1c1c;">6</div>
<div class="t" style="top:582px;font-size:10.4px;line-height:13px;color:#1c1c1c;font-weight:400;left:17.15px;width:300px;text-align:right;transform:scaleX(1.06);transform-origin:right center;-webkit-text-stroke:.3px #1c1c1c;">72</div>
<div class="t" style="top:582px;font-size:10.4px;line-height:13px;color:#1c1c1c;font-weight:400;left:61.1px;width:300px;text-align:right;transform:scaleX(1.06);transform-origin:right center;-webkit-text-stroke:.3px #1c1c1c;">36</div>
<div class="t" style="top:582px;font-size:10.4px;line-height:13px;color:#1c1c1c;font-weight:400;left:105.05px;width:300px;text-align:right;transform:scaleX(1.06);transform-origin:right center;-webkit-text-stroke:.3px #1c1c1c;">46</div>
<div class="t" style="top:582px;font-size:10.4px;line-height:13px;color:#1c1c1c;font-weight:400;left:149px;width:300px;text-align:right;transform:scaleX(1.06);transform-origin:right center;-webkit-text-stroke:.3px #1c1c1c;">44</div>
<div class="t" style="top:582px;font-size:10.4px;line-height:13px;color:#1c1c1c;font-weight:400;left:192.95px;width:300px;text-align:right;transform:scaleX(1.06);transform-origin:right center;-webkit-text-stroke:.3px #1c1c1c;">50</div>
<div class="t" style="top:582px;font-size:10.4px;line-height:13px;color:#1c1c1c;font-weight:400;left:236.9px;width:300px;text-align:right;transform:scaleX(1.06);transform-origin:right center;-webkit-text-stroke:.3px #1c1c1c;">47</div>
<div class="t" style="top:582px;font-size:10.4px;line-height:13px;color:#1c1c1c;font-weight:400;left:280.85px;width:300px;text-align:right;transform:scaleX(1.06);transform-origin:right center;-webkit-text-stroke:.3px #1c1c1c;">59</div>
<div class="b" style="left:584px;top:579px;width:68px;height:19px;background:rgb(10,148,70);box-sizing:border-box;background-clip:padding-box;border-bottom:1px solid rgba(10,148,70,.71);border-left:1px solid rgba(10,148,70,.70);"></div>
<svg style="left:583.9px;top:582.11px" width="12" height="14" viewBox="0 0 12 14" aria-hidden="true"><path d="M6 2.4V12.2M2.5 6 6 2.4 9.5 6" fill="none" stroke="#5fae8a" stroke-width="1.5" stroke-linecap="round" stroke-linejoin="round"/></svg>
<div class="t" style="top:582px;font-size:9.5px;line-height:13px;color:#fff;left:332px;width:300px;text-align:right;">26,4%</div>
<div class="b" style="left:654px;top:579px;width:69px;height:19px;background:rgb(10,148,70);box-sizing:border-box;background-clip:padding-box;border-right:1px solid rgba(10,148,70,.60);border-bottom:1px solid rgba(10,148,70,.71);border-left:1px solid rgba(10,148,70,.80);"></div>
<svg style="left:653.8px;top:582.11px" width="12" height="14" viewBox="0 0 12 14" aria-hidden="true"><path d="M6 2.4V12.2M2.5 6 6 2.4 9.5 6" fill="none" stroke="#5fae8a" stroke-width="1.5" stroke-linecap="round" stroke-linejoin="round"/></svg>
<div class="t" style="top:582px;font-size:9.5px;line-height:13px;color:#fff;left:401.6px;width:300px;text-align:right;">26,2%</div>
<div class="b" style="left:5px;top:599px;width:138px;height:19px;background:#90cf4f;box-sizing:border-box;background-clip:padding-box;border-top:1px solid rgba(144,207,79,.66);border-right:1px solid rgba(144,207,79,.60);border-left:1px solid rgba(144,207,79,.30);"></div>
<div class="t" style="top:602px;font-size:11px;line-height:14px;color:#fff;left:26.3px;">Spain</div>
<div class="t" style="top:603px;font-size:10.4px;line-height:13px;color:#1c1c1c;font-weight:400;left:-114.7px;width:300px;text-align:right;transform:scaleX(1.06);transform-origin:right center;-webkit-text-stroke:.3px #1c1c1c;">482</div>
<div class="t" style="top:603px;font-size:10.4px;line-height:13px;color:#1c1c1c;font-weight:400;left:-70.75px;width:300px;text-align:right;transform:scaleX(1.06);transform-origin:right center;-webkit-text-stroke:.3px #1c1c1c;">495</div>
<div class="t" style="top:603px;font-size:10.4px;line-height:13px;color:#1c1c1c;font-weight:400;left:-26.8px;width:300px;text-align:right;transform:scaleX(1.06);transform-origin:right center;-webkit-text-stroke:.3px #1c1c1c;">480</div>
<div class="t" style="top:603px;font-size:10.4px;line-height:13px;color:#1c1c1c;font-weight:400;left:17.15px;width:300px;text-align:right;transform:scaleX(1.06);transform-origin:right center;-webkit-text-stroke:.3px #1c1c1c;">476</div>
<div class="t" style="top:603px;font-size:10.4px;line-height:13px;color:#1c1c1c;font-weight:400;left:61.1px;width:300px;text-align:right;transform:scaleX(1.06);transform-origin:right center;-webkit-text-stroke:.3px #1c1c1c;">555</div>
<div class="t" style="top:603px;font-size:10.4px;line-height:13px;color:#1c1c1c;font-weight:400;left:105.05px;width:300px;text-align:right;transform:scaleX(1.06);transform-origin:right center;-webkit-text-stroke:.3px #1c1c1c;">425</div>
<div class="t" style="top:603px;font-size:10.4px;line-height:13px;color:#1c1c1c;font-weight:400;left:149px;width:300px;text-align:right;transform:scaleX(1.06);transform-origin:right center;-webkit-text-stroke:.3px #1c1c1c;">563</div>
<div class="t" style="top:603px;font-size:10.4px;line-height:13px;color:#1c1c1c;font-weight:400;left:192.95px;width:300px;text-align:right;transform:scaleX(1.06);transform-origin:right center;-webkit-text-stroke:.3px #1c1c1c;">412</div>
<div class="t" style="top:603px;font-size:10.4px;line-height:13px;color:#1c1c1c;font-weight:400;left:236.9px;width:300px;text-align:right;transform:scaleX(1.06);transform-origin:right center;-webkit-text-stroke:.3px #1c1c1c;">518</div>
<div class="t" style="top:603px;font-size:10.4px;line-height:13px;color:#1c1c1c;font-weight:400;left:280.85px;width:300px;text-align:right;transform:scaleX(1.06);transform-origin:right center;-webkit-text-stroke:.3px #1c1c1c;">567</div>
<div class="b" style="left:584px;top:599px;width:68px;height:20px;background:rgb(140,205,168);box-sizing:border-box;background-clip:padding-box;border-top:1px solid rgba(140,205,168,.36);border-bottom:1px solid rgba(140,205,168,.34);border-left:1px solid rgba(140,205,168,.70);"></div>
<svg style="left:583.9px;top:602.74px" width="12" height="14" viewBox="0 0 12 14" aria-hidden="true"><path d="M6 1 11.1 6.4 10 7.8 7.9 6.5V13H4.1V6.5L2 7.8 .9 6.4Z" fill="#4b9075" stroke="#4b9075" stroke-width=".8" stroke-linejoin="round"/></svg>
<div class="t" style="top:602px;font-size:9.5px;line-height:13px;color:#fff;left:332px;width:300px;text-align:right;">9,4%</div>
<div class="b" style="left:654px;top:599px;width:69px;height:20px;background:rgb(86,181,127);box-sizing:border-box;background-clip:padding-box;border-top:1px solid rgba(86,181,127,.36);border-right:1px solid rgba(86,181,127,.60);border-bottom:1px solid rgba(86,181,127,.34);border-left:1px solid rgba(86,181,127,.80);"></div>
<svg style="left:653.8px;top:602.74px" width="12" height="14" viewBox="0 0 12 14" aria-hidden="true"><path d="M6 1 11.1 6.4 10 7.8 7.9 6.5V13H4.1V6.5L2 7.8 .9 6.4Z" fill="#4b9075" stroke="#4b9075" stroke-width=".8" stroke-linejoin="round"/></svg>
<div class="t" style="top:602px;font-size:9.5px;line-height:13px;color:#fff;left:401.6px;width:300px;text-align:right;">13,8%</div>
<div class="b" style="left:5px;top:620px;width:138px;height:19px;background:#90cf4f;box-sizing:border-box;background-clip:padding-box;border-right:1px solid rgba(144,207,79,.60);border-bottom:1px solid rgba(144,207,79,.57);border-left:1px solid rgba(144,207,79,.30);"></div>
<div class="t" style="top:623px;font-size:11px;line-height:14px;color:#fff;left:26.3px;">Sweden</div>
<div class="t" style="top:624px;font-size:10.4px;line-height:13px;color:#1c1c1c;font-weight:400;left:-114.7px;width:300px;text-align:right;transform:scaleX(1.06);transform-origin:right center;-webkit-text-stroke:.3px #1c1c1c;">25</div>
<div class="t" style="top:624px;font-size:10.4px;line-height:13px;color:#1c1c1c;font-weight:400;left:-70.75px;width:300px;text-align:right;transform:scaleX(1.06);transform-origin:right center;-webkit-text-stroke:.3px #1c1c1c;">27</div>
<div class="t" style="top:624px;font-size:10.4px;line-height:13px;color:#1c1c1c;font-weight:400;left:-26.8px;width:300px;text-align:right;transform:scaleX(1.06);transform-origin:right center;-webkit-text-stroke:.3px #1c1c1c;">22</div>
<div class="t" style="top:624px;font-size:10.4px;line-height:13px;color:#1c1c1c;font-weight:400;left:17.15px;width:300px;text-align:right;transform:scaleX(1.06);transform-origin:right center;-webkit-text-stroke:.3px #1c1c1c;">31</div>
<div class="t" style="top:624px;font-size:10.4px;line-height:13px;color:#1c1c1c;font-weight:400;left:61.1px;width:300px;text-align:right;transform:scaleX(1.06);transform-origin:right center;-webkit-text-stroke:.3px #1c1c1c;">22</div>
<div class="t" style="top:624px;font-size:10.4px;line-height:13px;color:#1c1c1c;font-weight:400;left:105.05px;width:300px;text-align:right;transform:scaleX(1.06);transform-origin:right center;-webkit-text-stroke:.3px #1c1c1c;">29</div>
<div class="t" style="top:624px;font-size:10.4px;line-height:13px;color:#1c1c1c;font-weight:400;left:149px;width:300px;text-align:right;transform:scaleX(1.06);transform-origin:right center;-webkit-text-stroke:.3px #1c1c1c;">32</div>
<div class="t" style="top:624px;font-size:10.4px;line-height:13px;color:#1c1c1c;font-weight:400;left:192.95px;width:300px;text-align:right;transform:scaleX(1.06);transform-origin:right center;-webkit-text-stroke:.3px #1c1c1c;">32</div>
<div class="t" style="top:624px;font-size:10.4px;line-height:13px;color:#1c1c1c;font-weight:400;left:236.9px;width:300px;text-align:right;transform:scaleX(1.06);transform-origin:right center;-webkit-text-stroke:.3px #1c1c1c;">32</div>
<div class="t" style="top:624px;font-size:10.4px;line-height:13px;color:#1c1c1c;font-weight:400;left:280.85px;width:300px;text-align:right;transform:scaleX(1.06);transform-origin:right center;-webkit-text-stroke:.3px #1c1c1c;">32</div>
<div class="b" style="left:584px;top:620px;width:68px;height:19px;background:rgb(255,255,255);box-sizing:border-box;background-clip:padding-box;border-top:1px solid rgba(255,255,255,.73);border-left:1px solid rgba(255,255,255,.70);"></div>
<svg style="left:583.9px;top:623.37px" width="12" height="14" viewBox="0 0 12 14" aria-hidden="true"><path d="M1 2.6H4.2L8 7 4.2 11.4H1L4.8 7ZM6 2.6H8.4L12 7 8.4 11.4H6L9.8 7Z" fill="#d9b26a" stroke="#c49a5a" stroke-width=".5"/></svg>
<div class="t" style="top:623px;font-size:9.5px;line-height:13px;color:#2a2a2a;left:332px;width:300px;text-align:right;">0,0%</div>
<div class="b" style="left:654px;top:620px;width:69px;height:19px;background:rgb(248,252,249);box-sizing:border-box;background-clip:padding-box;border-top:1px solid rgba(248,252,249,.73);border-right:1px solid rgba(248,252,249,.60);border-left:1px solid rgba(248,252,249,.80);"></div>
<svg style="left:653.8px;top:623.37px" width="12" height="14" viewBox="0 0 12 14" aria-hidden="true"><path d="M6 1 11.1 6.4 10 7.8 7.9 6.5V13H4.1V6.5L2 7.8 .9 6.4Z" fill="#4b9075" stroke="#4b9075" stroke-width=".8" stroke-linejoin="round"/></svg>
<div class="t" style="top:623px;font-size:9.5px;line-height:13px;color:#2a2a2a;left:401.6px;width:300px;text-align:right;">0,6%</div>
<div class="b" style="left:5px;top:640px;width:138px;height:20px;background:#00b050;box-sizing:border-box;background-clip:padding-box;border-top:1px solid rgba(0,176,80,.60);border-right:1px solid rgba(0,176,80,.60);border-left:1px solid rgba(0,176,80,.30);"></div>
<div class="t" style="top:644px;font-size:11px;line-height:14px;color:#fff;left:26.3px;">Total</div>
<div class="t" style="top:644px;font-size:10.6px;line-height:14px;color:#0a0a0a;left:-114.7px;width:300px;text-align:right;transform:scaleX(1.1);transform-origin:right center;">12.216</div>
<div class="t" style="top:644px;font-size:10.6px;line-height:14px;color:#0a0a0a;left:-70.75px;width:300px;text-align:right;transform:scaleX(1.1);transform-origin:right center;">11.731</div>
<div class="t" style="top:644px;font-size:10.6px;line-height:14px;color:#0a0a0a;left:-26.8px;width:300px;text-align:right;transform:scaleX(1.1);transform-origin:right center;">9.158</div>
<div class="t" style="top:644px;font-size:10.6px;line-height:14px;color:#0a0a0a;left:17.15px;width:300px;text-align:right;transform:scaleX(1.1);transform-origin:right center;">13.264</div>
<div class="t" style="top:644px;font-size:10.6px;line-height:14px;color:#0a0a0a;left:61.1px;width:300px;text-align:right;transform:scaleX(1.1);transform-origin:right center;">10.746</div>
<div class="t" style="top:644px;font-size:10.6px;line-height:14px;color:#0a0a0a;left:105.05px;width:300px;text-align:right;transform:scaleX(1.1);transform-origin:right center;">10.646</div>
<div class="t" style="top:644px;font-size:10.6px;line-height:14px;color:#0a0a0a;left:149px;width:300px;text-align:right;transform:scaleX(1.1);transform-origin:right center;">11.989</div>
<div class="t" style="top:644px;font-size:10.6px;line-height:14px;color:#0a0a0a;left:192.95px;width:300px;text-align:right;transform:scaleX(1.1);transform-origin:right center;">11.936</div>
<div class="t" style="top:644px;font-size:10.6px;line-height:14px;color:#0a0a0a;left:236.9px;width:300px;text-align:right;transform:scaleX(1.1);transform-origin:right center;">11.511</div>
<div class="t" style="top:644px;font-size:10.6px;line-height:14px;color:#0a0a0a;left:280.85px;width:300px;text-align:right;transform:scaleX(1.1);transform-origin:right center;">10.207</div>
<div class="b" style="left:584px;top:639px;width:68px;height:21px;background:rgb(219,111,111);box-sizing:border-box;background-clip:padding-box;border-top:1px solid rgba(219,111,111,.20);border-bottom:1px solid rgba(219,111,111,.60);border-left:1px solid rgba(219,111,111,.70);"></div>
<svg style="left:583.9px;top:644px" width="12" height="14" viewBox="0 0 12 14" aria-hidden="true"><path d="M6 1 11.1 6.4 10 7.8 7.9 6.5V13H4.1V6.5L2 7.8 .9 6.4Z" fill="#bd533c" stroke="#bd533c" stroke-width=".8" stroke-linejoin="round" transform="rotate(180 6 7)"/></svg>
<div class="t" style="top:644px;font-size:9.5px;line-height:13px;color:#fff;left:332px;width:300px;text-align:right;">-11,3%</div>
<div class="b" style="left:654px;top:639px;width:69px;height:21px;background:rgb(212,82,82);box-sizing:border-box;background-clip:padding-box;border-top:1px solid rgba(212,82,82,.20);border-right:1px solid rgba(212,82,82,.60);border-bottom:1px solid rgba(212,82,82,.60);border-left:1px solid rgba(212,82,82,.80);"></div>
<svg style="left:653.8px;top:644px" width="12" height="14" viewBox="0 0 12 14" aria-hidden="true"><path d="M6 1 11.1 6.4 10 7.8 7.9 6.5V13H4.1V6.5L2 7.8 .9 6.4Z" fill="#bd533c" stroke="#bd533c" stroke-width=".8" stroke-linejoin="round" transform="rotate(180 6 7)"/></svg>
<div class="t" style="top:644px;font-size:9.5px;line-height:13px;color:#fff;left:401.6px;width:300px;text-align:right;">-13,6%</div>
<div class="b" style="left:5px;top:661px;width:718px;height:20px;background:#e63946;box-sizing:border-box;background-clip:padding-box;border-top:1px solid rgba(230,57,70,.50);border-right:1px solid rgba(230,57,70,.80);border-bottom:1px solid rgba(230,57,70,.40);border-left:1px solid rgba(230,57,70,.40);"></div>
<h2 class="t" style="top:664px;font-size:11.37px;line-height:14px;color:#fff;left:114.5px;width:500px;text-align:center;">Total production 1998-2024 (million t)</h2>
</section>
<section id="chart">
<svg style="left:0;top:0" width="730" height="826" viewBox="0 0 730 826" font-family='Liberation Sans, Arial, sans-serif' role="img" aria-label="Total production 1998-2024"><path d="M42.7 690V804.3H704" fill="none" stroke="#ebebeb" stroke-width="1"/><polyline points="54.1,772.39 78.6,750.33 103.1,738.2 127.6,742.61 152.1,756.21 176.6,750.15 201.1,740.77 225.6,758.79 250.1,765.4 274.6,785.07 299.1,745.74 323.6,753.46 348.1,777.17 372.6,758.6 397.1,769.26 421.6,753.82 446.1,724.41 470.6,726.44 495.1,735.44 519.6,782.68 544.1,707.32 568.6,753.46 593.1,755.29 617.6,730.66 642.1,731.58 666.6,739.49 691.1,763.38" fill="none" stroke="#0aa152" stroke-width="2.6" stroke-linejoin="round" stroke-linecap="round"/><polyline points="54.1,772.39 78.6,750.33 103.1,738.2 127.6,742.61 152.1,756.21 176.6,750.15 201.1,740.77 225.6,758.79 250.1,765.4 274.6,785.07 299.1,745.74 323.6,753.46 348.1,777.17 372.6,758.6 397.1,769.26 421.6,753.82 446.1,724.41 470.6,726.44 495.1,735.44 519.6,782.68 544.1,707.32 568.6,753.46 593.1,755.29 617.6,730.66 642.1,731.58 666.6,739.49 691.1,763.38" fill="none" stroke="#0a7a40" stroke-width="1.3" stroke-linejoin="round" stroke-linecap="round"/><rect x="52.6" y="770.89" width="3" height="3" fill="#9ad45c"/><rect x="77.1" y="748.83" width="3" height="3" fill="#9ad45c"/><rect x="101.6" y="736.7" width="3" height="3" fill="#9ad45c"/><rect x="126.1" y="741.11" width="3" height="3" fill="#9ad45c"/><rect x="150.6" y="754.71" width="3" height="3" fill="#9ad45c"/><rect x="175.1" y="748.65" width="3" height="3" fill="#9ad45c"/><rect x="199.6" y="739.27" width="3" height="3" fill="#9ad45c"/><rect x="224.1" y="757.29" width="3" height="3" fill="#9ad45c"/><rect x="248.6" y="763.9" width="3" height="3" fill="#9ad45c"/><rect x="273.1" y="783.57" width="3" height="3" fill="#9ad45c"/><rect x="297.6" y="744.24" width="3" height="3" fill="#9ad45c"/><rect x="322.1" y="751.96" width="3" height="3" fill="#9ad45c"/><rect x="346.6" y="775.67" width="3" height="3" fill="#9ad45c"/><rect x="371.1" y="757.1" width="3" height="3" fill="#9ad45c"/><rect x="395.6" y="767.76" width="3" height="3" fill="#9ad45c"/><rect x="420.1" y="752.32" width="3" height="3" fill="#9ad45c"/><rect x="444.6" y="722.91" width="3" height="3" fill="#9ad45c"/><rect x="469.1" y="724.94" width="3" height="3" fill="#9ad45c"/><rect x="493.6" y="733.94" width="3" height="3" fill="#9ad45c"/><rect x="518.1" y="781.18" width="3" height="3" fill="#9ad45c"/><rect x="542.6" y="705.82" width="3" height="3" fill="#9ad45c"/><rect x="567.1" y="751.96" width="3" height="3" fill="#9ad45c"/><rect x="591.6" y="753.79" width="3" height="3" fill="#9ad45c"/><rect x="616.1" y="729.16" width="3" height="3" fill="#9ad45c"/><rect x="640.6" y="730.08" width="3" height="3" fill="#9ad45c"/><rect x="665.1" y="737.99" width="3" height="3" fill="#9ad45c"/><rect x="689" y="761.28" width="4.2" height="4.2" fill="#c8324f"/><g font-size="5.6" font-weight="400" fill="#5a5a5a" text-anchor="middle"><text x="31.6" y="806">8</text><text x="31.6" y="787.62">9</text><text x="31.6" y="769.24">10</text><text x="31.6" y="750.86">11</text><text x="31.6" y="732.48">12</text><text x="31.6" y="714.1">13</text><text x="31.6" y="695.72">14</text></g><g font-size="6" font-weight="400" fill="#444" text-anchor="middle"><text x="54.1" y="814.6">1998</text><text x="78.6" y="814.6">1999</text><text x="103.1" y="814.6">2000</text><text x="127.6" y="814.6">2001</text><text x="152.1" y="814.6">2002</text><text x="176.6" y="814.6">2003</text><text x="201.1" y="814.6">2004</text><text x="225.6" y="814.6">2005</text><text x="250.1" y="814.6">2006</text><text x="274.6" y="814.6">2007</text><text x="299.1" y="814.6">2008</text><text x="323.6" y="814.6">2009</text><text x="348.1" y="814.6">2010</text><text x="372.6" y="814.6">2011</text><text x="397.1" y="814.6">2012</text><text x="421.6" y="814.6">2013</text><text x="446.1" y="814.6">2014</text><text x="470.6" y="814.6">2015</text><text x="495.1" y="814.6">2016</text><text x="519.6" y="814.6">2017</text><text x="544.1" y="814.6">2018</text><text x="568.6" y="814.6">2019</text><text x="593.1" y="814.6">2020</text><text x="617.6" y="814.6">2021</text><text x="642.1" y="814.6">2022</text><text x="666.6" y="814.6">2023</text><text x="691.1" y="814.6">2024</text></g><g font-size="6.3" font-weight="700" fill="#a9cb69" text-anchor="middle"><text x="54.1" y="762.59">9,72</text><text x="78.6" y="740.53">10,92</text><text x="103.1" y="728.4">11,58</text><text x="127.6" y="756.91">11,34</text><text x="152.1" y="770.51">10,60</text><text x="176.6" y="740.35">10,93</text><text x="201.1" y="730.97">11,44</text><text x="225.6" y="773.09">10,46</text><text x="250.1" y="779.7">10,10</text><text x="274.6" y="800.87">9,03</text><text x="299.1" y="735.94">11,17</text><text x="323.6" y="767.75">10,75</text><text x="348.1" y="791.47">9,46</text><text x="372.6" y="748.8">10,47</text><text x="397.1" y="759.46">9,89</text><text x="413.1" y="740.02">10,73</text><text x="446.1" y="714.61">12,33</text><text x="470.6" y="740.74">12,22</text><text x="492.1" y="749.74">11,73</text><text x="519.6" y="796.98">9,16</text><text x="544.1" y="697.52">13,26</text><text x="565.6" y="767.75">10,75</text><text x="593.1" y="769.59">10,65</text><text x="617.6" y="720.86">11,99</text><text x="642.1" y="745.88">11,94</text><text x="666.6" y="753.79">11,51</text><text x="691.1" y="777.68" fill="#c8324f">10,21</text></g></svg>
</section>
<section id="treemap">
<div class="b" style="left:5px;top:826px;width:718px;height:18px;background:#e63946;box-sizing:border-box;background-clip:padding-box;border-top:1px solid rgba(230,57,70,.50);border-right:1px solid rgba(230,57,70,.60);border-bottom:1px solid rgba(230,57,70,.40);border-left:1px solid rgba(230,57,70,.50);"></div>
<div class="b" style="left:5px;top:843px;width:18px;height:3px;background:#e63946;box-sizing:border-box;background-clip:padding-box;border-bottom:1px solid rgba(230,57,70,.20);border-left:1px solid rgba(230,57,70,.50);"></div>
<div class="b" style="left:706px;top:843px;width:17px;height:2px;background:#e63946;box-sizing:border-box;background-clip:padding-box;border-right:1px solid rgba(230,57,70,.60);"></div>
<h2 class="t" style="top:829px;font-size:11.57px;line-height:14px;color:#fff;left:114.2px;width:500px;text-align:center;">Top producing countries in F2024 (in % of total production)</h2>
<div class="b" style="left:31px;top:852px;width:217px;height:156px;background:#8bc34a;box-sizing:border-box;background-clip:padding-box;border-top:1px solid rgba(139,195,74,.50);border-bottom:1px solid rgba(139,195,74,.70);border-left:1px solid rgba(139,195,74,.50);"></div>
<div class="t" style="left:35.32px;top:972px;font-size:26.36px;line-height:32px;color:#fff;transform:scaleX(0.951);transform-origin:left center;">Poland 31%</div>
<div class="b" style="left:250px;top:852px;width:147px;height:156px;background:#fdb714;box-sizing:border-box;background-clip:padding-box;border-top:1px solid rgba(253,183,20,.50);border-right:1px solid rgba(253,183,20,.40);border-bottom:1px solid rgba(253,183,20,.70);border-left:1px solid rgba(253,183,20,.40);"></div>
<div class="t" style="left:253.36px;top:979px;font-size:20.42px;line-height:24px;color:#fff;transform:scaleX(1.057);transform-origin:left center;">Italy 21%</div>
<div class="b" style="left:398px;top:852px;width:99px;height:156px;background:#548235;box-sizing:border-box;background-clip:padding-box;border-top:1px solid rgba(84,130,53,.50);border-right:1px solid rgba(84,130,53,.30);border-bottom:1px solid rgba(84,130,53,.70);border-left:1px solid rgba(84,130,53,.60);"></div>
<div class="t" style="left:402.24px;top:986px;font-size:14.8px;line-height:18px;color:#fff;transform:scaleX(0.972);transform-origin:left center;">France 14%</div>
<div class="b" style="left:498px;top:852px;width:92px;height:91px;background:#bfc13d;box-sizing:border-box;background-clip:padding-box;border-top:1px solid rgba(191,193,61,.50);border-right:1px solid rgba(191,193,61,.30);border-bottom:1px solid rgba(191,193,61,.70);border-left:1px solid rgba(191,193,61,.20);"></div>
<div class="t" style="left:502.38px;top:921px;font-size:13.89px;line-height:18px;color:#fff;transform:scaleX(0.913);transform-origin:left center;">Germany 8%</div>
<div class="b" style="left:498px;top:945px;width:92px;height:63px;background:#b6d78f;box-sizing:border-box;background-clip:padding-box;border-right:1px solid rgba(182,215,143,.30);border-bottom:1px solid rgba(182,215,143,.70);border-left:1px solid rgba(182,215,143,.20);"></div>
<div class="t" style="left:502.61px;top:991px;font-size:10.16px;line-height:13px;color:#eef6e4;">Spain 6%</div>
<div class="b" style="left:592px;top:852px;width:60px;height:77px;background:#6aa336;box-sizing:border-box;background-clip:padding-box;border-top:1px solid rgba(106,163,54,.50);border-right:1px solid rgba(106,163,54,.50);border-bottom:1px solid rgba(106,163,54,.80);"></div>
<div class="t" style="left:595.74px;top:914px;font-size:8.42px;line-height:12px;color:#fff;">Romania 4%</div>
<div class="b" style="left:654px;top:852px;width:43px;height:77px;background:#ffc000;box-sizing:border-box;background-clip:padding-box;border-top:1px solid rgba(255,192,0,.50);border-bottom:1px solid rgba(255,192,0,.80);border-left:1px solid rgba(255,192,0,.60);"></div>
<div class="t" style="left:657.29px;top:916px;font-size:6.16px;line-height:9px;color:#fff3c4;">Hungary 3%</div>
<div class="b" style="left:592px;top:931px;width:39px;height:77px;background:#a8780a;box-sizing:border-box;background-clip:padding-box;border-top:1px solid rgba(168,120,10,.40);border-right:1px solid rgba(168,120,10,.30);border-bottom:1px solid rgba(168,120,10,.70);"></div>
<div class="t" style="top:986px;font-size:6.29px;line-height:9px;color:#f6e7b8;left:358.9px;width:500px;text-align:center;">Portugal</div>
<div class="t" style="top:996px;font-size:5.54px;line-height:8px;color:#f6e7b8;left:358.9px;width:500px;text-align:center;">3%</div>
<div class="b" style="left:633px;top:931px;width:64px;height:45px;background:#375623;box-sizing:border-box;background-clip:padding-box;border-top:1px solid rgba(55,86,35,.40);border-bottom:1px solid rgba(55,86,35,.50);"></div>
<div class="t" style="left:636.59px;top:965px;font-size:5.23px;line-height:8px;color:#fff;">Greece 3%</div>
<div class="b" style="left:633px;top:977px;width:64px;height:31px;background:#8cc152;box-sizing:border-box;background-clip:padding-box;border-top:1px solid rgba(140,193,82,.30);border-bottom:1px solid rgba(140,193,82,.70);"></div>
<div class="t" style="left:636.44px;top:997px;font-size:5.33px;line-height:8px;color:#f0f8e4;">Netherlands 2%</div>
</section>
</body>
</html>
